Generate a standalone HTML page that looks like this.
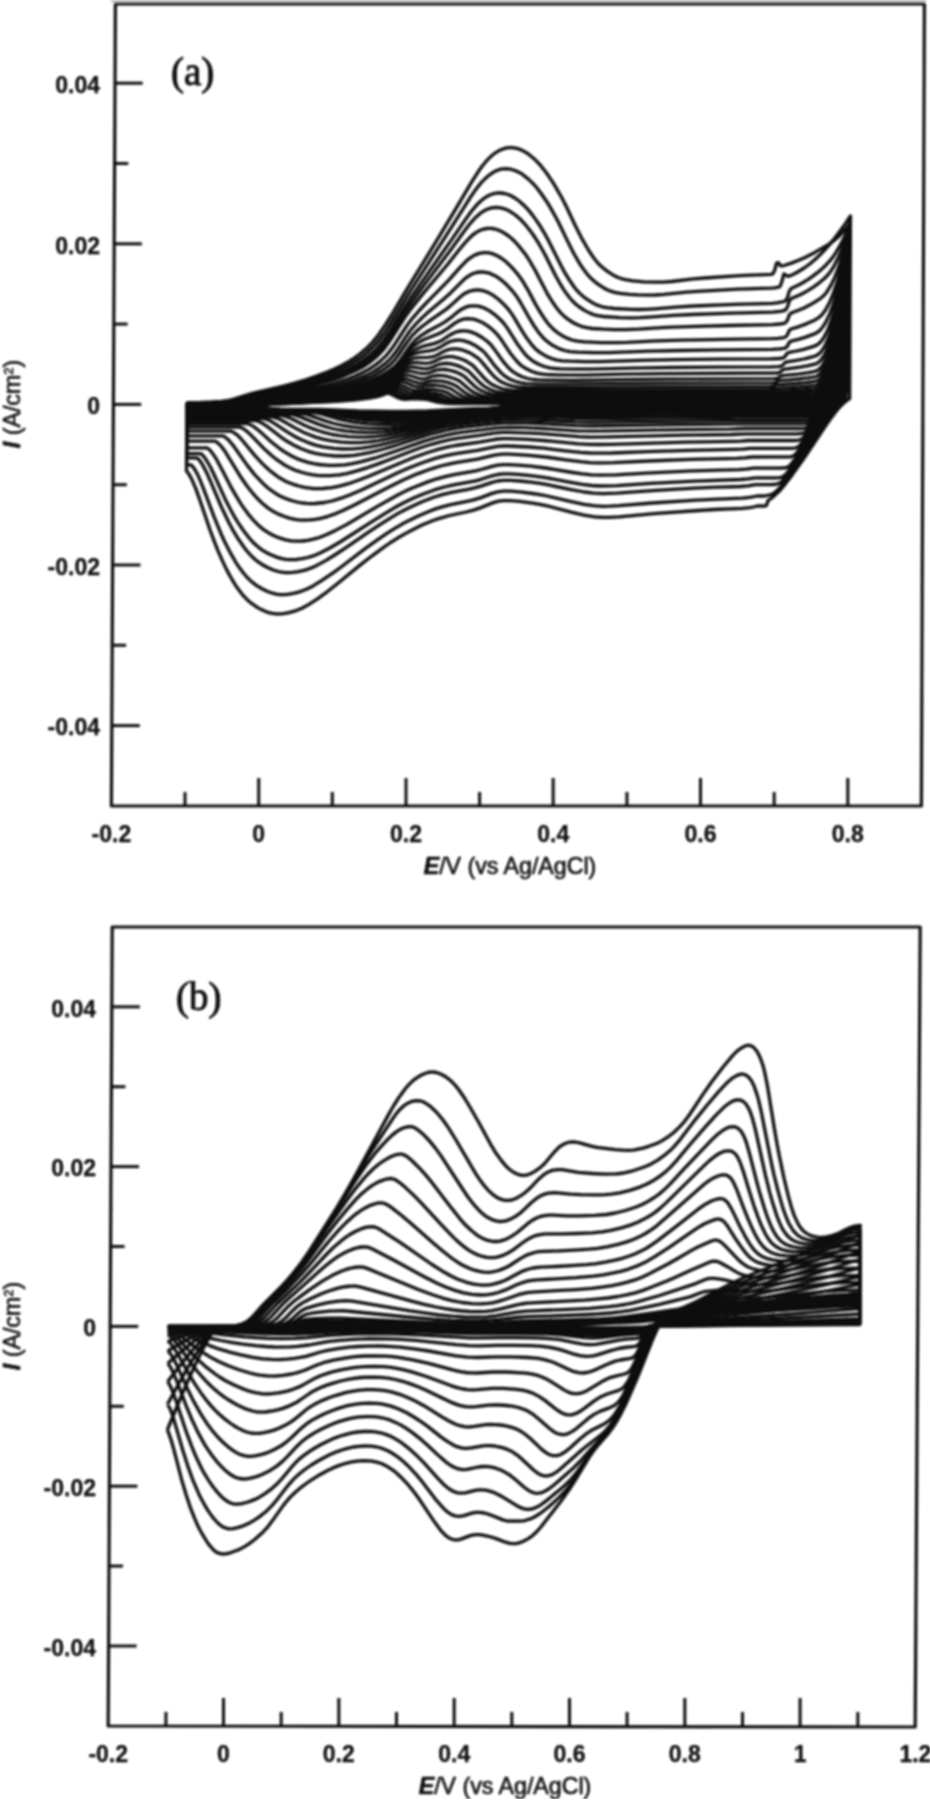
<!DOCTYPE html>
<html><head><meta charset="utf-8"><title>CV</title>
<style>
html,body{margin:0;padding:0;background:#fff;}
body{width:930px;height:1800px;overflow:hidden;}
svg{display:block;}
.ax{fill:none;stroke:#111;stroke-width:3.2;stroke-linejoin:round;}
.tk{fill:none;stroke:#111;stroke-width:3.0;}
.cv{fill:none;stroke:#0c0c0c;stroke-width:3.3;stroke-linejoin:round;}
.tl{font-family:"Liberation Sans",sans-serif;font-size:23px;font-weight:bold;fill:#0a0a0a;stroke:#0a0a0a;stroke-width:0.25;}
.xt{font-family:"Liberation Sans",sans-serif;font-size:23.2px;fill:#0a0a0a;stroke:#0a0a0a;stroke-width:0.6;}
.it{font-style:italic;font-weight:bold;}
.sup{font-size:13px;}
.pl{font-family:"Liberation Serif",serif;font-size:39px;fill:#0a0a0a;stroke:#0a0a0a;stroke-width:0.9;}
</style></head><body>
<svg width="930" height="1800" viewBox="0 0 930 1800">
<defs><filter id="bl" x="0" y="0" width="1" height="1"><feGaussianBlur stdDeviation="0.8"/></filter></defs>
<g filter="url(#bl)">
<rect x="111" y="0" width="815" height="2.5" fill="#bbb"/>
<path class="ax" d="M115.4 4 L924.4 4 L921.4 806 L111.4 806 Z"/>
<path class="tk" d="M114.7 83.2 h28"/>
<path class="tk" d="M114.3 163.5 h14"/>
<path class="tk" d="M113.9 243.8 h28"/>
<path class="tk" d="M113.6 324.1 h14"/>
<path class="tk" d="M113.2 404.4 h28"/>
<path class="tk" d="M112.8 484.7 h14"/>
<path class="tk" d="M112.5 565.0 h28"/>
<path class="tk" d="M112.1 645.3 h14"/>
<path class="tk" d="M111.8 725.6 h28"/>
<path class="tk" d="M185.0 806 v-14"/>
<path class="tk" d="M258.7 806 v-28"/>
<path class="tk" d="M332.3 806 v-14"/>
<path class="tk" d="M406.0 806 v-28"/>
<path class="tk" d="M479.6 806 v-14"/>
<path class="tk" d="M553.2 806 v-28"/>
<path class="tk" d="M626.9 806 v-14"/>
<path class="tk" d="M700.5 806 v-28"/>
<path class="tk" d="M774.2 806 v-14"/>
<path class="tk" d="M847.8 806 v-28"/>
<path class="ax" d="M112.2 927 L920.2 927 L915.2 1727 L108.2 1726 Z"/>
<path class="tk" d="M111.8 1006.8 h28"/>
<path class="tk" d="M111.4 1086.7 h14"/>
<path class="tk" d="M111.0 1166.6 h28"/>
<path class="tk" d="M110.6 1246.5 h14"/>
<path class="tk" d="M110.2 1326.4 h28"/>
<path class="tk" d="M109.8 1406.3 h14"/>
<path class="tk" d="M109.4 1486.2 h28"/>
<path class="tk" d="M109.0 1566.1 h14"/>
<path class="tk" d="M108.6 1646.0 h28"/>
<path class="tk" d="M165.9 1726 v-14"/>
<path class="tk" d="M223.5 1726 v-28"/>
<path class="tk" d="M281.2 1726 v-14"/>
<path class="tk" d="M338.8 1726 v-28"/>
<path class="tk" d="M396.5 1726 v-14"/>
<path class="tk" d="M454.2 1726 v-28"/>
<path class="tk" d="M511.8 1726 v-14"/>
<path class="tk" d="M569.5 1726 v-28"/>
<path class="tk" d="M627.1 1726 v-14"/>
<path class="tk" d="M684.8 1726 v-28"/>
<path class="tk" d="M742.5 1726 v-14"/>
<path class="tk" d="M800.1 1726 v-28"/>
<path class="tk" d="M857.8 1726 v-14"/>
<text class="tl" x="100" y="93.0" text-anchor="end">0.04</text>
<text class="tl" x="100" y="253.6" text-anchor="end">0.02</text>
<text class="tl" x="100" y="414.2" text-anchor="end">0</text>
<text class="tl" x="100" y="574.8" text-anchor="end">-0.02</text>
<text class="tl" x="100" y="735.4" text-anchor="end">-0.04</text>
<text class="tl" x="111.4" y="841.5" text-anchor="middle">-0.2</text>
<text class="tl" x="258.7" y="841.5" text-anchor="middle">0</text>
<text class="tl" x="406.0" y="841.5" text-anchor="middle">0.2</text>
<text class="tl" x="553.2" y="841.5" text-anchor="middle">0.4</text>
<text class="tl" x="700.5" y="841.5" text-anchor="middle">0.6</text>
<text class="tl" x="847.8" y="841.5" text-anchor="middle">0.8</text>
<text class="xt" x="510" y="874" text-anchor="middle"><tspan class="it">E</tspan>/V (vs Ag/AgCl)</text>
<text class="xt" transform="translate(20 404) rotate(-90)" text-anchor="middle"><tspan class="it">I</tspan> (A/cm<tspan class="sup" dy="-7">2</tspan><tspan dy="7">)</tspan></text>
<text class="pl" x="171" y="85">(a)</text>
<text class="tl" x="96" y="1016.6" text-anchor="end">0.04</text>
<text class="tl" x="96" y="1176.4" text-anchor="end">0.02</text>
<text class="tl" x="96" y="1336.2" text-anchor="end">0</text>
<text class="tl" x="96" y="1496.0" text-anchor="end">-0.02</text>
<text class="tl" x="96" y="1655.8" text-anchor="end">-0.04</text>
<text class="tl" x="108.2" y="1761.5" text-anchor="middle">-0.2</text>
<text class="tl" x="223.5" y="1761.5" text-anchor="middle">0</text>
<text class="tl" x="338.8" y="1761.5" text-anchor="middle">0.2</text>
<text class="tl" x="454.2" y="1761.5" text-anchor="middle">0.4</text>
<text class="tl" x="569.5" y="1761.5" text-anchor="middle">0.6</text>
<text class="tl" x="684.8" y="1761.5" text-anchor="middle">0.8</text>
<text class="tl" x="800.1" y="1761.5" text-anchor="middle">1</text>
<text class="tl" x="915.4" y="1761.5" text-anchor="middle">1.2</text>
<text class="xt" x="505" y="1794" text-anchor="middle"><tspan class="it">E</tspan>/V (vs Ag/AgCl)</text>
<text class="xt" transform="translate(20 1326) rotate(-90)" text-anchor="middle"><tspan class="it">I</tspan> (A/cm<tspan class="sup" dy="-7">2</tspan><tspan dy="7">)</tspan></text>
<text class="pl" x="176" y="1010">(b)</text>
<path class="cv" d="M186.9 402.8L197.9 402.6L210.8 402.1L221.8 401.4L227.4 400.7L231.1 399.9L234.7 398.9L245.8 395.3L253.2 393.2L284.5 385.8L295.6 382.9L306.6 379.5L315.8 376.4L325.1 372.9L334.3 369.0L341.7 365.4L349.0 361.4L354.6 357.9L360.1 353.8L367.5 347.4L373.1 341.6L378.6 334.7L386.0 323.9L391.6 315.0L406.4 290.1L436.1 241.7L456.5 207.6L471.4 182.3L478.8 170.8L482.5 165.7L486.2 161.2L491.7 155.7L495.4 152.8L499.1 150.6L501.0 149.7L504.7 148.4L508.3 147.7L512.0 147.7L515.7 148.2L519.4 149.2L521.2 149.9L524.9 151.8L528.6 154.2L534.1 158.7L537.7 162.3L541.4 166.4L546.9 173.5L552.4 181.7L556.0 187.6L561.5 197.3L565.2 204.3L576.1 227.2L581.6 238.1L588.9 250.8L594.4 258.8L598.0 263.2L601.7 266.7L605.4 269.8L609.0 272.4L614.5 275.8L618.2 277.5L621.9 278.8L625.6 279.7L632.9 280.8L644.0 281.8L653.2 282.2L662.4 282.2L671.6 281.5L693.7 278.9L704.7 278.0L739.7 275.7L771.0 274.3L772.9 273.8L774.7 270.3L776.6 263.0L778.4 262.6L780.3 265.7L782.1 265.9L784.0 265.5L791.3 263.1L798.7 260.3L806.1 257.0L815.3 252.2L828.2 244.6L831.9 242.1L835.6 239.2L839.3 235.9L843.0 232.1L846.7 227.8L850.4 222.9L849.6 398.7L845.9 401.2L842.2 404.5L838.5 408.5L834.8 413.0L831.1 417.9L825.6 425.8L803.3 459.2L792.2 474.9L784.8 484.6L779.3 491.1L773.7 496.4L770.0 499.2L768.2 500.4L766.3 505.6L764.5 506.0L757.1 506.0L753.4 507.0L749.7 507.7L742.4 508.4L714.7 509.5L698.2 510.5L654.0 513.7L619.0 516.8L609.8 517.3L602.4 517.3L596.9 517.0L593.2 516.6L584.0 515.1L571.1 512.1L547.2 505.9L539.9 504.4L532.5 503.1L519.6 501.4L510.4 500.6L503.1 500.6L497.5 501.4L492.0 503.1L480.9 507.6L473.6 510.1L466.2 512.0L449.6 515.5L438.6 518.6L433.0 520.5L427.5 522.7L422.0 525.1L414.6 528.7L405.3 533.6L398.0 537.8L390.6 542.5L383.2 547.7L372.1 555.8L361.0 564.4L337.0 584.0L327.8 591.3L316.7 599.4L307.4 605.3L301.9 608.2L298.2 609.8L294.5 611.1L289.0 612.7L283.5 613.6L279.8 613.9L276.1 613.9L272.4 613.4L268.8 612.6L265.1 611.3L261.4 609.6L257.7 607.6L254.1 605.2L250.4 602.5L246.7 599.2L243.1 595.4L237.6 588.3L233.9 582.7L230.3 576.5L226.6 569.6L223.0 562.1L217.5 549.6L213.9 540.4L210.2 530.5L199.3 498.4L195.7 488.4L192.0 479.8L190.2 476.3L188.4 473.3L186.5 470.9L186.9 402.8"/>
<path class="cv" d="M186.9 402.8L199.7 402.7L212.6 402.2L223.7 401.5L231.0 400.6L236.6 399.4L249.5 395.5L256.9 393.5L286.3 387.0L297.4 384.3L306.6 381.7L317.7 378.2L326.9 374.9L336.1 371.2L343.5 367.8L350.9 364.0L356.4 360.6L362.0 356.8L367.5 352.3L373.0 347.0L378.6 340.8L384.2 333.3L391.6 321.8L404.6 300.3L410.1 291.5L449.0 231.2L469.4 198.8L475.0 190.6L478.7 185.7L482.4 181.4L488.0 176.0L491.7 173.3L493.5 172.1L495.3 171.1L499.0 169.7L502.7 168.9L506.4 168.7L510.1 169.1L511.9 169.5L515.6 170.7L519.3 172.4L522.9 174.7L528.4 179.1L532.1 182.6L535.8 186.6L541.3 193.7L546.8 201.7L550.4 207.6L557.7 220.8L568.7 243.4L574.1 254.0L577.8 260.4L581.4 266.3L586.9 273.9L590.6 277.9L594.3 281.2L597.9 284.1L603.4 287.7L607.1 289.7L610.8 291.2L614.5 292.3L620.0 293.3L629.2 294.3L638.4 294.9L647.6 295.1L655.0 295.0L664.2 294.4L686.3 292.2L697.3 291.4L737.8 289.2L771.0 288.1L774.7 287.8L778.3 287.2L780.2 286.2L782.0 281.0L783.9 274.0L785.8 275.0L787.6 276.4L789.4 275.9L791.3 275.2L796.8 272.5L804.2 268.0L809.7 264.0L815.3 259.3L820.8 254.0L828.2 246.1L835.6 237.1L843.0 227.1L850.5 216.0L848.0 353.4L845.9 399.5L842.3 402.2L838.6 405.8L834.9 409.9L829.3 417.1L821.9 427.6L797.8 463.6L790.4 474.0L783.0 483.8L779.3 488.2L775.6 491.9L773.7 493.2L771.9 494.3L770.0 494.9L764.5 496.0L757.1 496.0L749.8 497.4L742.4 498.2L712.9 499.3L696.4 500.1L652.2 503.0L619.0 505.7L609.8 506.2L602.5 506.3L593.3 505.7L584.1 504.3L571.2 501.7L547.3 496.0L539.9 494.6L532.6 493.5L519.7 491.9L510.5 491.2L503.1 491.2L497.6 491.9L492.1 493.4L481.0 497.6L473.6 499.9L468.1 501.2L449.7 504.9L440.4 507.4L434.9 509.1L429.4 511.2L418.3 515.9L409.1 520.4L401.7 524.3L394.3 528.7L386.9 533.4L377.7 539.7L364.8 548.9L340.8 567.2L333.4 572.6L322.3 580.2L313.1 585.9L307.5 588.7L303.8 590.3L300.1 591.6L294.6 593.2L289.1 594.2L285.4 594.6L279.9 594.6L276.2 594.1L272.5 593.2L267.0 591.3L261.5 588.5L256.0 585.1L250.5 580.7L246.8 577.0L243.2 572.7L239.5 567.8L235.8 562.3L230.4 552.9L224.9 542.2L221.2 534.2L214.0 516.6L203.0 487.3L199.4 478.5L197.6 474.6L195.8 471.2L193.9 468.2L192.1 465.8L190.3 464.8L186.6 464.8L186.9 402.8"/>
<path class="cv" d="M186.9 402.9L201.6 402.7L214.5 402.3L225.5 401.7L232.9 401.0L240.3 399.6L253.2 396.0L260.5 394.1L297.4 386.4L306.6 384.0L315.8 381.3L325.0 378.4L334.3 375.0L343.5 371.2L350.9 367.7L356.4 364.7L361.9 361.2L369.3 355.6L374.9 350.5L380.4 344.4L384.1 339.6L389.7 331.4L404.5 307.3L410.1 298.8L423.1 280.1L452.7 238.1L465.7 219.1L471.2 211.5L476.8 204.9L478.6 203.0L482.3 199.7L486.0 197.0L487.9 195.9L489.7 195.0L493.4 193.7L497.1 193.0L500.8 193.0L504.4 193.5L508.1 194.5L510.0 195.3L513.6 197.2L519.1 201.0L524.6 205.9L528.3 209.9L532.0 214.4L535.6 219.4L539.3 224.7L542.9 230.6L546.6 237.0L550.2 243.9L561.2 266.0L564.8 272.6L568.5 278.7L574.0 286.8L575.8 289.1L579.5 293.1L583.1 296.4L586.8 299.2L592.3 302.7L596.0 304.6L599.7 306.0L603.4 307.1L607.0 307.7L614.4 308.5L631.0 309.4L638.3 309.5L645.7 309.4L654.9 308.8L678.8 306.8L693.6 306.0L734.1 304.3L772.7 303.3L778.3 302.7L783.8 301.5L785.6 300.8L787.5 297.5L789.4 290.9L791.2 288.4L798.6 285.0L802.3 283.0L807.8 279.6L811.5 277.1L817.1 272.9L822.6 268.2L826.3 264.7L830.0 260.7L833.7 255.9L835.6 253.2L841.1 243.7L846.7 232.0L850.4 222.9L846.2 353.8L844.1 399.1L840.4 401.7L836.7 405.1L833.0 409.2L829.3 413.8L820.1 426.7L799.7 457.3L788.5 473.1L783.0 480.2L781.1 482.0L779.3 483.2L777.5 483.9L775.6 484.3L771.9 484.5L755.4 484.6L748.0 485.9L740.6 486.5L711.2 487.4L694.6 488.2L652.2 490.6L617.2 493.1L602.5 493.6L593.3 493.1L584.1 492.0L571.2 489.7L547.3 484.7L540.0 483.4L530.8 482.2L519.7 481.0L510.5 480.3L503.2 480.3L497.6 481.0L492.1 482.4L481.0 486.1L475.5 487.7L468.1 489.3L451.6 492.4L442.3 494.7L433.1 497.5L422.1 501.8L412.8 505.9L405.5 509.5L398.1 513.4L390.7 517.8L381.5 523.6L368.5 532.1L346.4 547.4L337.1 553.5L326.1 560.4L316.8 565.4L311.3 567.9L307.6 569.3L303.9 570.4L298.4 571.6L292.9 572.4L289.2 572.7L285.5 572.6L281.8 572.2L278.1 571.5L272.6 569.7L267.1 567.3L261.6 564.2L257.9 561.7L254.3 558.7L250.6 555.1L246.9 551.0L243.3 546.3L237.8 538.3L232.3 529.1L228.7 522.3L221.4 507.0L210.4 481.1L206.8 472.9L203.1 465.8L201.3 462.8L199.5 460.3L197.7 458.3L195.8 457.8L186.6 457.8L186.9 402.9"/>
<path class="cv" d="M186.9 403.0L207.1 402.7L225.5 402.0L234.7 401.2L242.1 400.0L262.4 394.8L301.1 386.9L310.3 384.6L319.5 382.0L332.4 377.8L343.5 373.5L354.5 368.5L361.9 364.3L369.3 359.1L374.9 354.5L380.4 348.9L384.1 344.5L387.8 339.4L391.5 333.8L404.5 312.9L411.9 301.9L424.9 284.1L450.8 249.7L463.8 231.8L469.3 224.5L474.9 218.2L476.7 216.4L480.4 213.2L484.1 210.8L486.0 209.8L489.7 208.4L493.3 207.6L497.0 207.4L500.7 207.8L504.4 208.8L506.2 209.5L509.9 211.3L515.4 215.0L520.9 219.8L524.6 223.8L528.2 228.2L531.9 233.0L535.5 238.3L539.2 244.2L544.7 254.0L555.6 275.7L559.3 282.3L562.9 288.3L566.6 293.8L570.3 298.5L572.1 300.5L575.7 304.1L579.4 307.0L584.9 310.6L590.4 313.4L594.1 314.8L597.8 315.7L603.3 316.5L619.9 317.6L630.9 317.9L640.1 317.7L649.3 317.2L673.3 315.4L691.7 314.5L732.2 313.1L772.7 312.2L780.1 311.3L783.8 310.6L785.6 309.9L787.5 306.9L789.3 300.8L791.2 298.6L798.5 295.5L802.2 293.7L807.8 290.6L813.3 287.1L818.9 283.1L824.4 278.5L828.1 274.6L830.0 272.3L833.7 266.6L835.5 263.2L839.2 255.5L841.1 251.1L844.8 241.0L846.7 235.4L850.4 222.9L844.2 376.0L842.3 399.3L840.4 400.6L836.7 403.7L833.0 407.6L829.3 412.0L825.6 416.8L820.1 424.6L799.7 455.2L790.4 468.6L786.7 473.3L784.9 475.2L783.0 476.6L781.2 477.3L779.3 477.6L775.6 477.8L755.4 477.8L748.0 478.9L740.7 479.5L694.6 481.1L650.4 483.4L617.3 485.6L608.1 485.9L600.7 486.0L591.5 485.5L582.3 484.4L569.4 482.2L545.5 477.6L530.8 475.6L517.9 474.4L508.7 473.9L503.2 473.9L497.7 474.5L492.1 475.8L481.1 479.3L475.5 480.8L470.0 481.9L453.4 484.9L444.2 487.0L435.0 489.7L423.9 493.7L414.7 497.6L407.3 501.0L401.8 503.8L394.4 507.8L385.2 513.3L372.3 521.3L340.9 541.5L329.8 548.0L320.6 552.8L315.0 555.2L311.4 556.4L307.7 557.5L302.1 558.7L296.6 559.5L292.9 559.7L289.2 559.7L285.6 559.3L281.9 558.7L276.4 557.1L270.9 554.8L267.2 553.0L263.5 550.8L259.8 548.3L256.2 545.3L252.5 541.7L248.8 537.6L243.4 530.5L237.9 522.3L234.2 516.3L230.6 509.7L225.1 498.9L214.1 474.8L210.5 467.3L206.8 460.8L205.0 458.1L203.2 455.8L201.4 453.9L199.5 453.7L186.6 453.7L186.9 403.0"/>
<path class="cv" d="M186.9 403.1L208.9 402.8L229.2 402.1L238.4 401.3L245.8 400.1L266.1 395.3L302.9 388.2L310.3 386.5L319.5 384.0L332.4 380.1L343.5 376.1L354.5 371.3L361.9 367.5L369.3 362.6L374.8 358.2L380.4 353.0L384.1 348.8L387.8 343.8L391.5 338.4L404.5 317.9L411.9 307.6L423.0 293.6L447.1 265.0L460.0 248.7L465.6 242.1L471.1 236.4L474.8 233.4L478.5 231.1L480.3 230.3L484.0 229.0L487.7 228.4L491.4 228.4L495.1 229.0L498.8 230.2L502.4 231.9L507.9 235.5L511.6 238.5L515.3 242.0L518.9 246.1L522.6 250.7L526.3 255.6L529.9 261.2L535.4 270.8L546.3 291.8L550.0 298.1L553.7 303.8L557.3 308.9L561.0 313.1L564.6 316.6L568.3 319.5L573.8 323.0L577.5 324.8L581.2 326.3L586.7 327.7L592.2 328.5L603.3 329.2L614.3 329.6L625.3 329.6L638.2 329.1L665.9 327.4L687.9 326.6L728.5 325.5L772.6 324.7L780.0 324.0L783.7 323.4L785.5 322.7L787.4 320.2L789.3 314.9L791.1 313.0L798.5 310.3L804.0 307.9L809.6 305.1L815.1 301.9L820.6 298.3L822.5 296.8L826.2 292.8L828.0 290.2L831.7 283.8L833.6 280.0L837.3 270.9L839.2 265.6L842.9 253.5L844.8 246.7L848.5 231.4L850.4 222.9L842.4 378.6L840.4 399.3L838.6 400.5L834.9 403.6L831.2 407.4L827.5 411.8L823.8 416.6L818.2 424.4L794.1 460.4L790.4 465.0L788.6 466.6L786.7 467.4L784.9 467.8L781.2 468.0L753.6 468.1L746.2 469.1L738.9 469.6L692.8 470.9L650.5 472.9L615.5 474.8L600.8 475.2L591.6 474.9L582.3 473.9L569.5 472.0L545.6 468.0L530.8 466.2L518.0 465.1L508.8 464.7L503.2 464.7L497.7 465.2L492.2 466.4L481.1 469.5L475.6 470.8L455.3 474.3L446.1 476.3L436.9 478.8L427.7 481.9L412.9 487.7L405.5 491.1L398.2 494.8L377.9 506.1L346.5 524.6L335.4 530.4L326.2 534.8L320.6 537.0L317.0 538.2L313.3 539.2L307.7 540.3L302.2 541.0L298.5 541.2L294.9 541.2L291.2 540.9L285.7 539.8L280.1 538.2L274.6 536.0L269.1 533.2L263.6 529.6L259.9 526.6L256.3 523.2L252.6 519.3L248.9 514.9L245.3 510.1L241.6 504.9L238.0 499.2L230.7 486.6L219.7 465.2L216.1 458.7L212.4 453.2L210.6 450.9L208.7 449.0L206.9 447.8L186.7 447.8L186.9 403.1"/>
<path class="cv" d="M186.9 403.2L210.8 403.0L231.0 402.4L242.1 401.8L251.3 400.7L273.4 396.0L308.4 389.7L323.2 386.3L334.2 383.3L345.3 379.7L354.5 376.2L363.7 372.0L369.3 369.0L374.8 365.4L380.3 361.1L385.9 355.9L387.7 353.8L391.4 349.1L395.2 343.7L406.3 326.5L410.0 321.4L413.7 316.8L419.2 310.5L426.6 302.6L448.8 280.1L459.9 267.7L465.5 261.8L469.2 258.6L472.9 256.1L474.7 255.1L478.4 253.6L482.1 252.8L483.9 252.6L487.6 252.7L491.3 253.4L495.0 254.7L498.6 256.5L502.3 258.8L506.0 261.7L509.6 265.1L513.3 269.0L517.0 273.3L522.5 280.8L527.9 289.9L535.2 303.6L538.9 310.0L544.4 318.6L548.0 323.5L549.9 325.7L553.5 329.4L559.0 333.7L562.7 336.0L566.4 337.9L571.9 340.0L577.4 341.2L584.8 341.9L601.4 342.6L616.1 342.7L627.1 342.4L656.6 340.9L682.4 340.1L724.7 339.3L772.6 338.7L778.1 338.3L783.6 337.6L785.5 337.0L787.3 335.0L789.2 330.6L791.0 329.0L798.4 326.8L805.8 324.1L815.0 319.9L818.7 317.7L820.5 316.1L822.4 314.2L824.2 311.8L826.1 309.0L829.8 301.9L833.5 292.8L837.3 281.5L839.1 275.0L842.9 260.1L844.8 251.8L848.5 233.2L850.4 222.9L840.5 376.5L838.6 399.0L836.7 400.2L833.0 403.3L829.3 407.0L825.6 411.4L821.9 416.1L816.4 423.9L797.8 451.4L796.0 453.7L794.1 455.4L792.3 456.3L790.5 456.8L786.8 456.9L751.8 457.0L744.4 457.9L737.1 458.3L691.0 459.3L648.7 461.0L613.7 462.6L599.0 462.9L589.8 462.6L580.6 461.7L567.7 460.1L545.6 457.0L529.0 455.4L518.0 454.6L508.8 454.2L503.3 454.2L497.7 454.7L492.2 455.7L477.5 459.1L457.2 462.4L449.8 463.8L440.6 466.0L431.4 468.8L416.7 474.1L403.7 479.7L389.0 487.0L353.9 505.3L342.9 510.5L333.6 514.4L328.1 516.3L324.4 517.4L320.7 518.3L315.2 519.3L309.7 519.9L306.0 520.1L302.3 520.1L298.6 519.8L294.9 519.3L289.4 518.1L283.9 516.3L278.4 514.1L272.9 511.2L269.2 508.9L265.6 506.1L261.9 502.9L258.2 499.3L254.6 495.3L250.9 491.0L247.2 486.3L239.9 475.7L225.3 451.8L221.6 446.8L219.8 444.7L216.1 441.5L214.3 441.1L186.7 441.1L186.9 403.2"/>
<path class="cv" d="M186.9 403.2L214.5 403.1L236.6 402.6L249.5 402.0L258.7 400.9L280.8 396.5L313.9 390.8L326.8 388.1L337.9 385.3L347.1 382.5L356.3 379.3L365.6 375.6L372.9 371.9L378.5 368.5L384.0 364.4L389.6 359.5L391.4 357.5L395.1 352.9L398.8 347.6L406.2 336.2L409.9 331.0L415.5 324.4L421.0 318.8L426.6 313.6L443.2 299.5L448.8 294.6L463.6 279.8L467.3 276.9L470.9 274.6L474.6 273.0L476.5 272.5L480.2 272.0L482.0 272.0L485.7 272.3L489.4 273.2L491.2 273.9L494.9 275.7L498.5 277.9L504.0 282.3L507.7 285.8L511.4 289.8L515.0 294.3L516.9 296.8L520.5 302.5L529.7 318.7L533.3 324.7L538.8 332.6L542.5 337.0L544.3 338.9L548.0 342.1L553.5 345.8L559.0 348.6L564.5 350.5L570.0 351.6L577.4 352.1L593.9 352.7L608.7 352.7L649.2 351.2L678.6 350.5L721.0 349.8L772.5 349.4L779.9 348.9L783.6 348.4L785.4 348.0L787.3 346.2L789.1 342.6L791.0 341.2L798.4 339.4L805.7 337.1L813.1 334.4L816.8 332.7L818.6 331.4L820.5 329.7L822.3 327.5L824.2 324.9L826.0 321.7L829.8 313.6L833.5 303.2L837.2 290.2L839.1 282.7L842.9 265.7L844.8 256.1L848.5 234.7L850.4 222.9L838.7 381.2L836.7 399.1L834.9 400.3L831.2 403.4L825.7 409.2L821.9 413.8L816.4 421.4L801.6 443.1L799.7 445.4L797.9 447.0L796.0 447.8L794.2 448.1L790.5 448.3L750.0 448.4L742.6 449.1L735.3 449.4L689.2 450.3L646.9 451.6L611.9 453.0L597.2 453.2L589.8 453.0L580.6 452.4L567.7 451.1L543.8 448.2L529.1 447.0L508.8 446.0L503.3 446.0L497.8 446.4L492.3 447.3L477.5 450.3L459.1 453.1L451.7 454.3L444.4 455.9L435.1 458.4L422.2 462.7L409.3 467.7L398.3 472.6L361.4 490.0L350.3 494.7L341.1 498.2L331.9 501.0L324.5 502.5L315.3 503.5L309.7 503.6L306.1 503.4L302.4 503.0L296.9 502.0L291.4 500.5L285.8 498.6L280.3 496.2L276.7 494.1L273.0 491.7L269.3 489.0L265.6 485.9L262.0 482.4L254.6 474.6L247.3 465.4L232.7 444.8L229.0 440.5L227.2 438.8L223.5 436.0L221.7 435.9L186.7 435.9L186.9 403.2"/>
<path class="cv" d="M186.9 403.3L216.3 403.2L238.4 402.8L255.0 402.3L264.2 401.4L269.7 400.5L286.3 397.2L315.8 392.5L328.7 390.0L339.7 387.3L348.9 384.8L358.2 381.8L365.5 379.1L372.9 375.9L380.3 371.8L385.8 368.1L391.4 363.5L393.2 361.7L396.9 357.3L408.1 341.0L411.8 336.2L415.5 332.3L421.0 327.3L428.4 321.7L445.0 310.2L450.6 305.6L459.8 297.2L463.5 294.3L467.2 292.2L469.0 291.4L470.9 290.8L474.6 290.1L476.4 290.0L480.1 290.1L483.8 290.9L485.6 291.5L489.3 293.1L492.9 295.1L498.4 299.2L503.9 304.4L507.6 308.4L509.4 310.6L513.1 315.9L522.2 331.2L525.9 336.9L531.4 344.3L535.0 348.4L536.9 350.1L540.6 352.9L546.1 356.2L551.6 358.6L557.1 360.1L562.6 360.8L570.0 361.2L584.7 361.6L599.4 361.7L639.9 360.4L674.9 359.7L720.9 359.2L770.6 358.9L779.9 358.5L783.5 357.9L785.4 356.0L787.2 353.2L789.1 352.4L796.5 351.0L803.8 349.3L811.2 347.1L814.9 345.9L816.7 345.0L818.6 343.8L820.4 342.1L822.3 339.9L824.1 337.1L826.0 333.6L827.9 329.6L829.7 324.9L833.4 313.4L837.2 298.9L839.1 290.5L842.8 271.3L844.7 260.5L848.5 236.3L850.4 222.9L836.8 386.5L834.9 399.3L833.1 400.5L829.4 403.6L823.8 409.6L816.4 419.1L805.3 435.1L803.4 437.4L801.6 439.1L799.7 439.9L797.9 440.3L794.2 440.5L748.2 440.5L740.8 441.1L733.5 441.3L685.6 442.1L611.9 444.3L597.2 444.5L588.0 444.3L578.8 443.8L543.8 440.5L527.3 439.3L508.9 438.6L503.3 438.6L497.8 439.0L492.3 439.8L479.4 442.1L455.4 445.5L448.1 446.9L438.9 449.2L427.8 452.5L414.9 457.0L405.7 460.7L368.8 476.3L359.6 479.8L348.5 483.7L339.3 486.2L331.9 487.6L322.7 488.5L317.2 488.6L313.5 488.5L309.8 488.1L304.3 487.3L298.8 486.0L293.3 484.3L287.8 482.2L284.1 480.4L280.4 478.3L276.7 475.9L269.4 470.2L262.1 463.4L254.7 455.4L243.7 442.0L240.1 437.8L236.4 434.3L232.7 431.8L230.9 431.1L186.7 431.1L186.9 403.3"/>
<path class="cv" d="M186.9 403.4L240.2 403.1L260.5 402.5L269.7 401.9L277.1 400.8L293.7 397.7L321.3 393.4L332.3 391.4L348.9 387.5L356.3 385.4L363.7 383.0L372.9 379.6L380.3 376.1L387.7 371.7L393.2 367.6L395.1 366.0L398.8 361.9L402.5 357.0L408.0 348.9L411.7 344.0L415.4 340.0L421.0 335.6L428.3 331.0L439.4 325.1L445.0 321.9L450.5 317.9L457.9 311.8L461.6 309.2L465.3 307.4L467.1 306.7L469.0 306.2L472.6 305.8L474.5 305.8L478.2 306.2L481.8 307.2L483.7 307.8L489.2 310.6L494.7 314.6L500.2 319.5L503.9 323.4L507.5 328.4L518.5 345.6L524.0 352.8L527.6 356.8L529.5 358.4L533.1 361.2L538.7 364.3L544.2 366.5L549.7 367.9L555.2 368.5L560.7 368.8L575.5 369.1L590.2 369.2L632.5 368.1L671.2 367.5L717.2 367.1L770.6 366.9L778.0 366.7L779.8 366.5L781.7 366.1L785.4 362.3L787.2 361.8L796.4 360.4L803.8 359.0L813.0 356.7L816.7 355.4L818.5 354.2L820.4 352.5L822.2 350.2L824.1 347.3L825.9 343.7L827.8 339.4L829.7 334.4L833.4 321.9L837.2 306.2L839.0 297.1L842.8 276.1L844.7 264.2L848.5 237.7L850.4 222.9L834.9 392.9L833.1 399.5L831.2 400.8L827.5 404.0L822.0 410.1L816.4 417.2L807.1 430.0L805.3 431.9L803.5 433.0L801.6 433.5L796.1 433.8L746.4 433.8L731.6 434.5L683.8 435.1L608.3 436.9L595.4 437.1L588.0 437.0L578.8 436.6L542.0 433.7L525.5 432.8L508.9 432.3L503.4 432.4L497.8 432.7L492.3 433.4L479.4 435.4L457.3 438.3L450.0 439.7L442.6 441.3L431.5 444.3L420.5 447.8L411.2 451.2L389.1 459.8L376.2 464.6L367.0 467.8L355.9 471.2L346.7 473.6L339.3 474.8L330.1 475.6L320.9 475.6L317.2 475.3L311.7 474.6L306.2 473.5L300.7 472.0L295.2 470.2L291.5 468.6L284.1 464.7L276.8 459.7L271.3 455.3L264.0 448.6L249.3 433.4L245.6 430.3L243.8 429.0L240.1 427.0L186.7 427.0L186.9 403.4"/>
<path class="cv" d="M186.9 403.5L223.7 403.4L245.8 403.2L266.0 402.6L275.2 402.0L282.6 400.9L299.2 397.9L321.3 394.6L332.3 392.7L347.1 389.6L360.0 386.1L369.2 383.1L378.4 379.3L385.8 375.4L391.3 371.8L395.0 368.9L398.7 365.0L408.0 352.3L411.7 347.9L413.6 346.1L417.2 343.4L420.9 341.2L424.6 339.3L437.5 334.2L441.2 332.5L446.8 329.1L454.2 323.6L457.8 321.3L461.5 319.7L463.4 319.2L467.1 318.7L470.7 318.8L474.4 319.4L476.3 319.9L481.8 322.2L487.3 325.6L491.0 328.4L494.6 331.7L498.3 335.7L501.9 340.6L511.1 354.3L516.6 361.0L520.2 364.6L522.1 366.1L525.8 368.5L531.3 371.2L536.8 373.1L542.3 374.1L547.8 374.6L555.2 374.8L581.0 375.1L623.3 374.2L662.0 373.7L776.1 373.0L777.9 372.9L779.8 372.5L781.6 370.6L783.5 369.3L800.1 367.2L807.4 365.8L814.8 364.2L816.7 363.5L818.5 362.4L820.3 360.7L822.2 358.4L824.1 355.3L825.9 351.6L827.8 347.1L829.6 341.8L833.4 328.6L837.1 311.9L839.0 302.2L842.8 279.8L846.6 253.4L850.4 222.9L835.0 381.3L833.1 398.9L829.4 401.4L825.7 404.8L820.1 411.0L809.0 425.4L807.2 427.0L805.3 427.9L803.5 428.3L799.8 428.5L744.6 428.5L729.8 429.1L680.1 429.6L593.6 431.2L577.0 430.8L542.1 428.5L525.5 427.7L508.9 427.4L497.9 427.8L461.0 432.4L453.7 433.6L446.3 435.1L435.2 437.8L424.2 441.1L387.3 454.0L374.4 458.2L361.5 461.7L352.3 463.7L344.9 464.8L335.7 465.4L328.3 465.4L319.1 464.5L313.6 463.6L308.1 462.3L302.6 460.7L298.9 459.4L291.6 456.0L284.2 451.6L278.7 447.8L271.4 442.0L260.4 431.9L256.7 428.8L253.0 426.1L249.4 424.2L247.5 423.7L186.8 423.6L186.9 403.5"/>
<path class="cv" d="M186.9 403.5L243.9 403.3L264.2 402.9L275.2 402.3L282.6 401.4L299.2 398.6L332.3 393.8L345.2 391.3L358.1 388.3L369.2 384.9L378.4 381.5L385.8 377.9L391.3 374.4L395.0 371.7L398.7 367.9L406.1 358.1L409.8 353.7L411.7 352.0L415.4 349.5L419.1 347.7L422.8 346.4L433.8 343.6L437.5 342.4L439.3 341.6L443.0 339.7L450.4 334.7L454.1 332.7L457.8 331.5L461.5 330.9L465.2 330.9L468.8 331.4L470.7 331.9L476.2 334.0L481.7 337.2L487.2 341.3L490.9 344.8L494.5 349.4L503.7 362.2L507.4 366.5L511.0 370.1L512.9 371.6L516.5 374.0L522.0 376.7L527.5 378.5L533.1 379.5L538.6 379.9L544.1 380.1L571.7 380.3L617.8 379.6L658.3 379.2L774.2 378.7L776.1 378.6L777.9 378.1L779.8 376.5L781.6 375.7L798.2 374.1L807.4 372.8L814.8 371.4L816.6 370.8L818.5 369.7L820.3 368.0L822.2 365.7L824.0 362.6L825.9 358.7L827.7 354.0L829.6 348.4L833.4 334.6L837.1 317.1L839.0 306.8L842.8 283.1L846.6 255.2L850.4 222.9L833.1 390.4L831.2 399.3L827.5 402.1L823.8 405.6L820.1 409.7L812.7 419.0L810.9 421.0L809.0 422.5L807.2 423.3L805.3 423.6L801.7 423.8L740.9 423.8L726.2 424.2L678.3 424.7L591.8 426.0L575.2 425.6L540.2 423.7L525.5 423.2L510.8 422.9L499.7 423.3L494.2 423.8L464.7 427.2L457.4 428.2L450.0 429.5L440.8 431.6L429.7 434.5L420.5 437.4L394.7 445.8L381.8 449.5L370.7 452.3L361.5 454.2L354.1 455.3L344.9 456.0L335.7 456.0L326.5 455.2L321.0 454.4L315.5 453.3L308.1 451.3L300.8 448.5L293.4 444.9L287.9 441.8L280.6 436.8L267.8 426.9L264.1 424.3L260.4 422.2L256.7 420.7L186.8 420.6L186.9 403.5"/>
<path class="cv" d="M186.9 403.6L243.9 403.4L264.2 403.0L275.2 402.5L282.6 401.7L299.2 399.1L330.5 394.9L341.5 393.0L352.6 390.6L363.7 387.8L372.9 384.9L380.3 382.0L387.6 378.2L391.3 375.8L395.0 373.0L398.7 369.0L406.1 359.5L408.0 357.6L409.8 356.1L411.7 354.9L415.4 353.3L419.0 352.3L430.1 350.7L433.8 349.9L435.6 349.3L439.3 347.6L446.7 343.1L450.4 341.4L454.1 340.5L457.8 340.1L459.6 340.2L463.3 340.7L468.8 342.3L474.3 344.9L479.8 348.6L483.5 351.5L485.3 353.5L489.0 358.0L494.5 365.4L500.0 371.7L503.6 375.1L507.3 377.7L511.0 379.7L516.5 381.8L520.2 382.7L525.7 383.6L536.7 384.0L564.3 384.2L610.4 383.6L654.6 383.2L772.4 382.9L774.2 382.8L776.1 382.2L777.9 380.9L779.8 380.4L789.0 379.8L798.2 379.0L807.4 377.9L814.8 376.8L816.6 376.2L818.4 375.1L820.3 373.4L822.1 371.0L824.0 367.9L825.9 363.9L827.7 359.0L829.6 353.3L833.3 339.1L837.1 320.8L839.0 310.2L842.8 285.6L846.6 256.6L850.4 222.9L833.1 383.1L831.2 398.9L827.5 401.4L823.8 404.8L820.1 408.8L812.7 417.4L810.9 418.9L809.0 419.7L807.2 420.1L803.5 420.3L739.1 420.3L724.3 420.7L672.8 421.1L591.8 422.1L575.2 421.8L540.2 420.3L525.5 419.8L512.6 419.6L501.6 420.0L494.2 420.6L466.6 423.5L453.7 425.4L444.5 427.2L435.3 429.5L426.1 432.1L400.2 440.0L389.2 442.9L378.1 445.4L368.9 447.2L361.5 448.2L352.3 448.9L343.1 449.0L333.9 448.4L322.9 446.8L315.5 445.1L308.2 442.6L300.8 439.5L293.5 435.7L288.0 432.4L275.1 423.8L271.5 421.6L267.8 419.8L265.9 419.1L264.1 418.7L245.7 418.3L186.8 418.3L186.9 403.6"/>
<path class="cv" d="M186.9 403.6L243.9 403.5L264.2 403.1L275.2 402.7L284.4 401.8L301.0 399.4L330.5 395.7L339.7 394.3L350.8 392.2L361.8 389.7L372.9 386.6L380.2 383.9L387.6 380.4L391.3 378.2L395.0 375.6L398.7 371.8L404.3 364.8L406.1 362.8L408.0 361.1L409.8 359.9L411.7 359.0L413.5 358.4L417.2 357.7L428.2 357.3L431.9 356.8L433.8 356.4L437.4 354.9L443.0 351.8L446.7 350.2L450.4 349.2L454.0 348.8L455.9 348.9L459.6 349.3L463.2 350.2L468.8 352.4L472.4 354.4L477.9 358.1L479.8 359.7L483.4 363.9L490.8 372.9L494.4 376.7L498.1 379.8L501.8 382.2L507.3 384.6L512.8 386.2L518.3 387.0L527.5 387.5L557.0 387.7L650.9 386.9L770.5 386.6L772.4 386.5L774.2 385.8L776.1 384.8L777.9 384.6L796.3 383.5L805.5 382.6L814.7 381.5L816.6 381.0L818.4 379.9L820.3 378.2L822.1 375.8L824.0 372.6L825.8 368.5L827.7 363.6L829.6 357.7L831.4 350.8L833.3 343.0L837.1 324.2L839.0 313.2L842.8 287.8L846.6 257.8L850.4 222.9L831.2 394.0L829.4 399.5L827.5 400.8L823.8 404.0L814.6 414.0L812.7 415.5L810.9 416.5L809.0 416.9L803.5 417.2L735.4 417.2L720.7 417.5L671.0 417.8L590.0 418.6L573.4 418.4L525.5 416.8L512.6 416.8L503.4 417.1L496.1 417.6L470.3 420.1L462.9 421.0L455.6 422.1L448.2 423.5L439.0 425.6L429.8 428.0L405.8 434.8L394.7 437.4L385.5 439.3L376.3 441.0L368.9 441.9L359.7 442.6L350.5 442.7L341.3 442.1L330.3 440.7L322.9 439.2L315.6 437.1L308.2 434.3L302.7 431.9L295.4 428.1L284.3 421.8L280.7 419.8L277.0 418.3L273.3 417.1L256.8 416.4L247.5 416.3L186.8 416.2L186.9 403.6"/>
<path class="cv" d="M186.9 403.7L243.9 403.5L264.2 403.2L275.2 402.8L284.4 402.0L301.0 399.8L328.6 396.6L345.2 394.1L356.3 391.9L367.3 389.2L376.6 386.4L383.9 383.4L389.5 380.4L393.2 378.0L395.0 376.4L396.9 374.5L402.4 367.8L404.3 366.0L406.1 364.6L408.0 363.7L409.8 363.1L413.5 362.7L417.2 362.7L424.5 363.3L428.2 363.1L430.0 362.8L433.7 361.7L441.1 358.1L444.8 357.0L448.5 356.6L452.2 356.7L457.7 357.8L463.2 359.8L466.9 361.6L470.5 363.8L472.4 365.1L474.2 366.8L483.4 377.2L487.0 380.7L490.7 383.7L494.4 385.8L499.9 388.1L505.4 389.5L510.9 390.2L520.1 390.5L549.6 390.7L645.3 390.0L768.7 389.8L770.5 389.7L774.2 388.3L788.9 387.7L800.0 387.0L814.7 385.6L816.6 385.1L818.4 384.1L820.3 382.4L822.1 379.9L824.0 376.7L825.8 372.5L827.7 367.5L829.5 361.4L831.4 354.4L833.3 346.4L837.1 327.1L839.0 315.8L842.8 289.7L846.6 258.8L850.4 222.9L831.3 388.3L829.4 399.1L827.5 400.3L823.8 403.4L816.4 411.0L814.6 412.5L812.7 413.6L810.9 414.2L809.1 414.4L805.4 414.6L729.9 414.6L717.0 414.8L588.1 415.7L571.6 415.5L527.4 414.3L516.3 414.3L507.1 414.5L497.9 415.2L472.1 417.5L459.2 419.0L451.9 420.3L442.7 422.2L435.3 424.0L411.3 430.4L392.9 434.1L383.7 435.6L376.3 436.4L367.1 437.0L357.9 437.1L348.7 436.7L339.5 435.7L332.2 434.5L324.8 432.7L319.3 431.0L311.9 428.4L304.6 425.2L289.9 418.0L286.2 416.7L282.5 415.7L273.3 415.5L256.8 414.7L247.6 414.4L186.8 414.3L186.9 403.7"/>
<path class="cv" d="M186.9 403.8L245.8 403.6L266.0 403.3L277.1 402.9L284.4 402.3L302.8 400.0L328.6 397.3L343.4 395.3L356.3 393.0L367.3 390.5L376.5 387.8L383.9 385.0L389.5 382.2L393.1 379.9L395.0 378.3L396.8 376.4L402.4 370.2L404.2 368.7L406.1 367.7L407.9 367.2L411.6 367.0L415.3 367.4L422.7 368.6L426.3 368.7L428.2 368.5L431.9 367.4L435.6 365.7L439.2 364.3L441.1 363.9L444.8 363.5L448.5 363.5L452.1 364.1L457.6 365.6L461.3 367.1L466.8 370.1L468.7 371.4L470.5 373.1L479.7 382.6L483.3 385.7L487.0 388.1L490.7 389.8L496.2 391.5L499.9 392.2L505.4 392.8L514.6 393.0L544.1 393.2L639.8 392.6L766.8 392.4L768.7 392.3L772.3 391.2L787.1 390.8L798.1 390.3L812.9 389.2L814.7 389.0L816.5 388.6L818.4 387.5L820.2 385.8L822.1 383.4L823.9 380.1L825.8 375.9L827.7 370.7L829.5 364.6L831.4 357.4L833.3 349.2L837.1 329.5L839.0 318.0L842.8 291.3L846.6 259.6L850.4 222.9L829.4 398.8L827.5 399.9L823.8 402.8L816.4 409.8L814.6 411.1L812.8 411.8L809.1 412.3L805.4 412.4L726.2 412.4L586.3 413.3L569.7 413.2L529.2 412.3L518.2 412.2L510.8 412.4L503.5 412.8L474.0 415.3L461.1 416.8L453.7 417.9L446.4 419.4L439.0 421.1L418.7 426.2L402.1 429.3L391.1 431.0L383.7 431.8L374.5 432.3L365.3 432.4L356.1 432.0L346.9 431.1L339.5 430.0L332.2 428.5L324.8 426.4L317.5 423.9L299.1 416.4L295.4 415.3L291.7 414.4L275.2 414.2L256.8 413.1L247.6 412.9L186.8 412.8L186.9 403.8"/>
<path class="cv" d="M186.8 403.8L243.9 403.7L266.0 403.4L277.1 403.1L286.3 402.4L302.8 400.4L328.6 397.9L339.7 396.6L352.6 394.6L363.6 392.4L374.7 389.6L382.1 387.2L387.6 384.7L391.3 382.7L393.1 381.5L395.0 379.9L400.5 373.9L402.4 372.4L404.2 371.4L406.1 370.9L409.8 371.0L420.8 373.5L424.5 373.7L428.2 373.2L435.5 370.4L437.4 369.9L441.1 369.5L444.7 369.5L448.4 370.0L453.9 371.4L457.6 372.8L461.3 374.6L463.1 375.6L465.0 377.0L474.1 385.7L477.8 388.6L481.5 390.7L485.1 392.3L490.7 393.8L494.3 394.5L499.9 395.0L509.1 395.2L538.5 395.3L636.1 394.8L766.8 394.7L768.7 393.9L770.5 393.6L785.2 393.4L798.1 392.9L814.7 391.9L816.5 391.5L818.4 390.5L820.2 388.8L822.1 386.3L823.9 382.9L825.8 378.7L827.7 373.5L829.5 367.2L831.4 360.0L833.3 351.6L837.0 331.6L838.9 319.8L842.7 292.6L846.6 260.4L850.4 222.9L829.4 395.3L827.5 399.6L823.8 402.3L818.3 407.3L816.4 408.7L814.6 409.7L812.8 410.3L810.9 410.5L805.4 410.6L720.7 410.6L584.5 411.3L567.9 411.2L529.2 410.5L512.7 410.7L505.3 411.1L488.7 412.7L474.0 413.8L464.8 414.7L457.4 415.8L450.1 417.1L424.3 423.0L409.5 425.6L398.5 427.1L391.1 427.9L383.7 428.3L374.5 428.4L365.3 428.1L356.1 427.4L348.8 426.5L341.4 425.2L334.0 423.5L326.7 421.4L308.3 414.9L304.6 414.0L300.9 413.4L275.2 413.1L256.8 411.8L247.6 411.5L186.8 411.4L186.8 403.8"/>
<path class="cv" d="M186.8 403.9L245.8 403.7L267.9 403.5L278.9 403.1L286.3 402.6L304.7 400.7L328.6 398.6L343.4 396.9L354.4 395.3L365.5 393.2L374.7 391.0L382.1 388.7L387.6 386.4L391.3 384.6L393.1 383.4L395.0 381.8L398.7 378.0L400.5 376.4L402.4 375.3L404.2 374.8L406.1 374.8L409.7 375.5L418.9 378.4L422.6 378.8L426.3 378.3L431.8 376.4L433.7 376.0L437.4 375.5L442.9 375.7L448.4 376.7L453.9 378.5L457.6 380.0L459.4 381.0L461.3 382.4L466.8 387.2L470.4 390.2L474.1 392.5L475.9 393.4L479.6 394.8L483.3 395.8L488.8 396.6L494.3 397.0L533.0 397.3L632.4 396.9L766.8 396.8L768.6 396.0L783.4 395.8L798.1 395.4L814.7 394.6L816.5 394.2L818.4 393.2L820.2 391.5L822.1 389.0L823.9 385.6L825.8 381.3L827.6 376.1L829.5 369.7L831.4 362.4L833.3 353.9L837.0 333.5L838.9 321.5L842.7 293.8L846.6 261.0L850.4 222.9L829.4 391.2L827.5 399.2L823.8 401.9L818.3 406.4L816.5 407.6L814.6 408.4L810.9 408.9L805.4 409.0L713.4 409.0L580.8 409.5L529.3 408.9L514.5 409.1L507.2 409.6L490.6 411.2L472.2 412.6L463.0 413.6L450.1 415.8L427.9 420.6L411.4 422.9L398.5 424.1L383.7 424.5L376.4 424.3L367.2 423.8L359.8 423.1L352.5 422.1L346.9 421.0L339.6 419.3L321.2 414.0L317.5 413.1L313.8 412.5L277.0 412.2L269.7 411.7L256.8 410.6L247.6 410.2L186.8 410.0L186.8 403.9"/>
<path class="cv" d="M186.8 403.9L245.8 403.8L278.9 403.3L288.1 402.7L304.7 401.1L332.3 398.8L343.4 397.6L354.4 396.1L363.6 394.6L372.8 392.7L380.2 390.7L385.7 388.7L391.3 386.1L393.1 384.8L398.7 379.8L400.5 378.7L402.4 378.2L404.2 378.3L406.0 378.7L415.2 382.2L418.9 383.1L420.7 383.2L422.6 383.1L424.4 382.7L430.0 381.1L433.6 380.7L439.2 380.8L444.7 381.7L448.4 382.6L453.9 384.7L457.6 387.0L464.9 392.6L468.6 394.7L470.4 395.5L474.1 396.8L477.8 397.6L481.4 398.2L487.0 398.6L525.6 398.9L628.7 398.6L766.8 398.5L768.6 397.9L798.1 397.4L814.7 396.8L816.5 396.4L818.4 395.5L820.2 393.8L822.1 391.2L823.9 387.8L825.8 383.5L827.6 378.2L829.5 371.8L831.4 364.3L833.3 355.7L837.0 335.1L838.9 322.9L842.7 294.9L846.6 261.6L850.4 222.9L829.4 387.8L827.5 399.0L823.8 401.4L818.3 405.7L816.5 406.6L814.6 407.2L810.9 407.6L805.4 407.7L709.7 407.7L579.0 408.1L531.1 407.7L516.4 407.8L509.0 408.3L492.4 410.1L474.0 411.3L464.8 412.2L451.9 414.1L431.6 418.0L416.9 419.8L402.2 421.0L387.4 421.3L370.9 420.7L363.5 420.1L356.2 419.2L345.1 417.3L326.7 412.9L319.4 411.7L278.9 411.4L271.5 411.0L254.9 409.4L245.7 409.0L186.8 408.9L186.8 403.9"/>
<path class="cv" d="M186.8 404.0L245.8 403.9L278.9 403.4L288.1 402.9L341.5 398.5L352.6 397.1L363.6 395.5L372.8 393.7L380.2 391.8L385.7 389.9L389.4 388.3L391.3 387.3L396.8 382.7L398.7 381.6L400.5 381.3L402.3 381.4L404.2 381.9L413.4 386.0L417.1 386.9L418.9 387.0L420.7 386.9L426.3 385.5L431.8 385.0L437.3 385.3L442.8 386.2L446.5 387.2L450.2 388.5L452.0 389.5L459.4 394.5L463.0 396.4L464.9 397.2L468.5 398.3L472.2 399.1L475.9 399.6L481.4 399.9L520.1 400.1L766.8 399.9L768.6 399.4L799.9 399.0L814.7 398.6L816.5 398.2L818.3 397.2L820.2 395.5L822.0 393.0L823.9 389.6L825.8 385.2L827.6 379.8L829.5 373.4L831.4 365.8L833.3 357.2L837.0 336.3L838.9 324.0L842.7 295.7L846.6 262.0L850.4 222.9L829.4 385.1L827.5 398.7L823.8 401.1L820.2 403.8L818.3 405.0L816.5 405.9L814.6 406.4L812.8 406.6L807.3 406.7L579.0 407.0L531.1 406.8L518.2 406.9L509.0 407.5L492.4 409.4L472.2 410.6L463.0 411.4L451.9 412.8L431.6 416.1L420.6 417.2L404.0 418.4L387.5 418.7L370.9 418.2L363.5 417.8L356.2 417.0L345.1 415.5L326.7 412.0L319.4 411.1L278.9 410.8L271.5 410.3L254.9 408.5L245.7 408.1L186.8 408.0L186.8 404.0"/>
<path class="cv" d="M186.8 404.0L245.8 403.9L278.9 403.5L289.9 403.0L339.7 399.3L350.7 398.2L361.8 396.7L371.0 395.2L378.4 393.5L383.9 391.9L389.4 389.7L391.3 388.6L395.0 385.7L396.8 384.7L398.7 384.5L400.5 384.8L402.3 385.4L407.8 388.2L411.5 389.8L415.2 390.7L417.0 390.7L418.9 390.5L424.4 389.4L428.1 389.2L433.6 389.5L437.3 390.0L441.0 390.7L444.6 391.6L446.5 392.3L453.8 396.5L459.3 398.9L463.0 399.9L466.7 400.5L474.1 401.1L512.7 401.3L766.8 401.1L768.6 400.7L803.6 400.4L814.6 400.2L816.5 399.8L818.3 398.9L820.2 397.2L822.0 394.6L823.9 391.2L825.8 386.8L827.6 381.3L829.5 374.9L831.4 367.3L833.2 358.5L837.0 337.4L838.9 325.0L842.7 296.4L846.6 262.4L850.4 222.9L827.5 397.0L825.7 399.6L820.2 403.3L818.3 404.4L816.5 405.2L812.8 405.8L807.3 405.9L520.1 406.1L510.9 406.6L492.4 408.8L470.3 410.0L459.3 410.8L428.0 414.7L405.9 416.0L389.3 416.3L372.7 416.0L358.0 415.2L345.1 413.9L326.7 411.2L319.4 410.5L289.9 410.4L278.9 410.2L271.5 409.7L254.9 407.7L245.7 407.3L186.8 407.1L186.8 404.0"/>
<path class="cv" d="M186.8 404.1L245.8 404.0L278.9 403.6L289.9 403.2L337.8 400.0L348.9 399.1L359.9 397.8L369.1 396.4L376.5 395.0L382.0 393.6L387.6 391.7L389.4 390.8L393.1 388.2L395.0 387.4L396.8 387.2L398.6 387.7L400.5 388.5L407.8 392.3L411.5 393.5L413.3 393.7L415.2 393.7L420.7 392.8L424.4 392.6L428.1 392.7L433.6 393.2L440.9 394.6L442.8 395.2L450.1 398.8L455.7 400.6L461.2 401.5L468.5 402.0L507.2 402.2L766.8 402.0L768.6 401.8L812.8 401.4L814.6 401.3L816.5 401.0L818.3 400.1L820.2 398.4L822.0 395.8L823.9 392.4L825.7 387.9L827.6 382.5L829.5 375.9L831.4 368.3L833.2 359.5L837.0 338.3L838.9 325.8L842.7 296.9L846.6 262.7L850.4 222.9L827.6 394.9L825.7 399.3L820.2 403.0L818.3 404.0L816.5 404.7L812.8 405.2L807.3 405.4L521.9 405.5L510.9 406.1L498.0 408.0L492.4 408.5L459.3 410.2L428.0 413.2L405.9 414.3L389.3 414.5L372.7 414.3L358.0 413.6L345.1 412.6L326.7 410.7L319.4 410.1L288.1 410.0L277.0 409.7L269.7 409.1L256.8 407.3L249.4 406.7L234.7 406.5L186.8 406.4L186.8 404.1"/>
<path class="cv" d="M186.8 404.1L245.8 404.0L278.9 403.7L289.9 403.3L337.8 400.5L358.1 398.6L367.3 397.4L374.7 396.1L380.2 394.8L385.7 393.1L387.6 392.3L391.3 390.0L393.1 389.5L394.9 389.7L396.8 390.4L404.1 394.3L407.8 395.6L409.6 396.0L411.5 396.0L417.0 395.4L422.5 395.2L429.9 395.7L437.3 396.9L444.6 399.8L450.1 401.4L455.6 402.2L463.0 402.7L501.7 402.8L766.8 402.7L768.6 402.5L814.6 402.2L816.5 401.9L818.3 400.9L820.2 399.2L822.0 396.7L823.9 393.2L825.7 388.7L827.6 383.3L829.5 376.7L831.4 369.0L833.2 360.2L837.0 338.9L838.9 326.3L842.7 297.3L846.6 262.9L850.4 222.9L827.6 393.3L825.7 399.2L820.2 402.7L818.3 403.7L816.5 404.3L812.8 404.9L807.3 405.0L523.7 405.1L512.7 405.7L496.1 408.0L488.8 408.6L459.3 409.8L428.0 412.2L405.9 413.0L389.3 413.2L372.7 413.0L358.0 412.5L345.1 411.8L326.7 410.3L319.4 409.8L289.9 409.8L278.9 409.5L271.5 409.0L256.8 406.8L247.6 406.2L232.9 406.0L186.8 406.0L186.8 404.1"/>
<path class="cv" d="M186.8 404.1L245.8 404.1L278.9 403.8L288.1 403.5L334.1 401.1L354.4 399.5L363.6 398.4L371.0 397.3L376.5 396.3L382.0 394.9L383.9 394.3L387.6 392.3L389.4 391.6L391.3 391.5L393.1 392.1L394.9 392.9L398.6 395.0L402.3 396.7L406.0 397.7L409.6 397.8L413.3 397.3L417.0 397.2L420.7 397.2L426.2 397.6L433.6 398.7L440.9 401.1L444.6 402.0L450.1 402.7L457.5 403.1L766.8 403.1L768.6 403.0L814.6 402.8L816.5 402.5L818.3 401.5L820.2 399.8L822.0 397.3L823.9 393.8L825.7 389.3L827.6 383.8L829.5 377.3L831.4 369.6L833.2 360.7L837.0 339.3L838.9 326.7L842.7 297.6L846.6 263.1L850.4 222.9L827.6 392.0L825.7 399.1L820.2 402.5L818.3 403.5L816.5 404.1L812.8 404.7L807.3 404.8L523.7 404.9L512.7 405.5L496.1 407.9L488.8 408.6L457.5 409.6L428.0 411.4L405.9 412.0L389.3 412.2L372.8 412.0L358.0 411.7L319.4 409.7L291.8 409.6L280.7 409.4L271.5 408.7L258.6 406.7L251.3 406.0L236.5 405.6L186.8 405.6L186.8 404.1"/>
<path class="cv" d="M186.8 404.2L245.8 404.1L277.1 403.9L286.3 403.6L332.3 401.5L352.6 400.0L361.8 399.1L369.1 398.1L374.7 397.1L380.2 395.8L382.0 395.2L385.7 393.5L387.6 393.2L389.4 393.5L391.2 394.3L398.6 398.0L402.3 399.1L405.9 399.3L411.5 398.8L415.2 398.8L422.5 399.1L428.0 399.7L437.2 402.1L440.9 402.7L446.4 403.3L452.0 403.5L766.8 403.5L814.6 403.2L816.5 402.9L818.3 402.0L820.2 400.3L822.0 397.7L823.9 394.2L825.7 389.8L827.6 384.3L829.5 377.7L831.4 370.0L833.2 361.1L837.0 339.6L838.9 327.0L842.7 297.8L846.6 263.2L850.4 222.9L827.6 391.1L825.7 399.0L820.2 402.4L818.3 403.3L816.5 404.0L812.8 404.5L807.3 404.6L525.6 404.7L518.2 405.0L512.7 405.4L496.1 407.9L486.9 408.6L457.5 409.4L428.0 410.9L405.9 411.3L389.3 411.4L358.0 411.0L319.4 409.5L291.8 409.5L280.7 409.3L271.5 408.6L256.8 406.2L249.4 405.6L234.7 405.3L186.8 405.3L186.8 404.2"/>
<path class="cv" d="M167.3 1430.0L180.5 1398.0L187.8 1381.2L193.6 1368.3L199.4 1356.1L205.2 1344.6L209.6 1336.8L214.0 1329.8L215.4 1327.9L216.9 1326.3L229.8 1326.1L237.1 1325.4L239.9 1324.9L242.8 1324.0L245.7 1322.7L247.2 1321.8L248.6 1320.7L251.5 1318.1L263.1 1304.9L281.9 1286.1L287.7 1279.8L292.1 1274.7L300.8 1263.7L308.0 1253.3L337.1 1207.3L345.8 1192.5L354.6 1177.1L389.5 1112.9L393.8 1105.5L399.6 1096.4L405.5 1088.5L408.4 1085.1L412.7 1080.9L415.6 1078.6L419.9 1075.8L424.3 1073.7L427.2 1072.7L430.0 1072.1L432.9 1072.0L435.8 1072.4L440.1 1073.8L444.4 1076.0L447.3 1077.9L450.2 1080.3L453.1 1083.0L455.9 1086.1L458.8 1089.7L464.5 1098.0L470.2 1107.5L478.8 1122.5L491.7 1146.2L495.9 1153.1L501.7 1160.9L504.5 1164.4L507.4 1167.5L510.3 1170.0L513.1 1172.0L516.0 1173.5L518.9 1174.6L521.8 1175.3L524.7 1175.4L527.5 1174.8L530.4 1173.7L534.8 1171.4L539.1 1168.4L542.0 1166.0L544.9 1163.2L553.6 1152.8L558.0 1148.2L559.4 1146.9L562.3 1144.9L565.2 1143.5L568.1 1142.5L571.0 1141.9L575.3 1142.0L579.6 1142.9L591.1 1146.2L596.9 1147.3L607.0 1148.7L615.6 1149.7L622.8 1150.2L628.6 1150.3L632.9 1150.1L635.8 1149.7L643.0 1148.1L648.8 1146.3L654.6 1144.2L658.9 1142.4L661.8 1140.9L667.6 1137.2L673.4 1132.7L679.1 1127.4L683.5 1122.7L689.3 1115.0L702.4 1095.1L712.5 1080.8L722.7 1067.5L732.8 1055.4L735.7 1052.4L738.6 1049.8L743.0 1047.0L745.9 1045.7L747.3 1045.4L748.7 1045.3L750.2 1045.5L751.6 1046.1L753.1 1047.0L754.5 1048.3L755.9 1050.0L757.4 1052.1L758.8 1054.7L760.2 1057.7L761.6 1061.5L763.1 1066.0L764.5 1071.4L767.3 1085.1L774.3 1128.2L777.1 1144.2L779.9 1158.8L784.1 1178.6L788.4 1196.4L791.2 1206.5L794.0 1215.0L795.5 1218.4L798.3 1224.2L799.7 1226.5L802.6 1230.1L804.0 1231.5L806.9 1233.6L809.8 1235.1L812.7 1236.2L817.0 1237.2L819.9 1237.4L822.7 1237.4L825.6 1237.0L832.8 1235.3L838.6 1233.2L845.8 1229.4L850.2 1227.5L854.5 1226.2L860.3 1225.3L860.3 1226.4L857.4 1227.3L854.5 1228.6L831.4 1240.3L812.6 1249.3L801.0 1254.5L790.9 1258.8L756.3 1272.5L741.8 1278.6L728.8 1284.8L695.6 1302.0L684.0 1307.2L671.0 1312.2L668.1 1313.9L666.7 1315.1L663.8 1318.1L662.3 1320.1L659.4 1324.8L656.5 1330.6L652.1 1340.7L637.5 1377.3L630.2 1394.2L625.9 1403.7L621.5 1412.6L617.1 1420.6L614.2 1425.3L611.3 1429.6L608.4 1433.3L596.8 1446.7L592.5 1452.3L588.1 1458.8L575.0 1480.7L569.2 1489.6L560.5 1501.7L541.6 1526.1L538.7 1529.5L535.9 1532.6L531.5 1536.4L528.6 1538.4L525.7 1540.1L522.8 1541.5L519.9 1542.6L517.1 1543.3L514.2 1543.7L509.9 1543.3L505.5 1542.2L496.9 1538.9L491.1 1537.0L483.9 1535.3L479.6 1534.6L475.3 1534.6L472.4 1535.1L469.5 1535.9L460.9 1539.1L458.0 1539.8L455.1 1539.9L453.6 1539.7L450.8 1538.8L449.3 1538.1L447.9 1537.2L445.0 1534.9L440.7 1530.3L433.6 1520.6L420.7 1501.3L415.0 1493.3L410.7 1487.9L406.4 1482.8L402.1 1478.3L397.8 1474.2L393.5 1470.6L389.1 1467.6L386.3 1465.9L382.0 1463.8L377.6 1462.4L373.3 1461.4L369.0 1460.8L363.2 1460.7L357.5 1461.1L351.7 1461.9L345.9 1463.3L338.7 1465.6L332.9 1467.9L327.1 1470.7L319.9 1474.7L312.7 1479.1L306.9 1483.0L301.1 1487.3L295.3 1492.2L291.0 1496.4L288.1 1499.5L283.7 1504.9L272.1 1521.1L267.8 1526.8L262.0 1533.1L254.7 1539.5L248.9 1543.8L244.6 1546.6L240.3 1548.9L235.9 1550.8L230.2 1552.8L225.8 1553.8L222.9 1554.0L221.5 1553.9L218.6 1553.2L215.7 1551.7L212.9 1549.2L210.0 1545.9L207.1 1542.0L202.9 1535.2L200.0 1530.0L197.1 1524.2L194.3 1517.7L190.0 1506.6L185.8 1493.8L181.5 1479.2L174.4 1451.7L171.6 1441.5L168.8 1433.2L167.3 1430.0"/>
<path class="cv" d="M167.5 1404.3L180.6 1380.2L187.8 1367.6L193.6 1357.9L199.5 1348.7L205.3 1340.1L209.6 1334.2L214.0 1329.0L215.4 1327.5L216.9 1326.3L229.8 1326.1L237.1 1325.3L239.9 1324.7L242.8 1323.7L245.7 1322.3L247.2 1321.4L250.1 1319.1L253.0 1316.4L264.6 1303.6L281.9 1286.1L287.7 1279.8L293.5 1273.0L302.2 1261.7L311.0 1248.9L337.1 1207.7L369.1 1154.5L393.8 1117.1L396.7 1113.1L399.6 1109.7L403.9 1105.7L408.3 1102.9L411.2 1101.7L414.0 1100.9L416.9 1100.6L419.8 1100.8L421.2 1101.1L424.1 1102.3L427.0 1104.0L429.9 1106.1L434.2 1109.9L437.0 1112.8L442.8 1119.7L448.5 1127.9L455.7 1139.5L475.7 1173.6L480.0 1180.1L484.2 1185.7L488.6 1190.6L491.4 1193.3L494.3 1195.6L497.2 1197.5L500.0 1198.9L502.9 1199.9L505.8 1200.4L508.7 1200.4L511.6 1200.0L514.5 1199.0L517.3 1197.7L521.7 1195.1L524.6 1193.0L527.5 1190.5L530.4 1187.8L539.1 1178.7L543.4 1174.9L547.7 1172.2L550.6 1170.9L553.5 1170.1L557.8 1169.6L562.2 1169.7L578.0 1172.3L592.4 1173.5L605.4 1174.1L615.5 1173.9L619.8 1173.5L624.1 1172.8L632.8 1170.8L642.9 1167.5L647.2 1165.8L651.6 1163.7L657.4 1160.3L664.6 1155.2L670.4 1150.3L674.7 1145.9L680.5 1139.1L695.0 1120.1L706.6 1105.7L718.2 1092.1L722.6 1087.3L726.9 1082.8L729.8 1080.2L732.7 1077.9L737.1 1075.4L740.0 1074.4L741.4 1074.2L742.8 1074.2L744.3 1074.5L745.7 1075.1L747.2 1076.0L748.6 1077.2L750.0 1078.8L751.5 1080.9L752.9 1083.5L754.3 1086.6L757.1 1094.9L758.6 1100.1L761.4 1112.5L771.2 1162.1L774.0 1174.8L778.3 1192.0L782.5 1206.9L785.4 1215.2L788.2 1222.0L789.7 1224.9L792.5 1229.5L793.9 1231.4L796.8 1234.4L798.2 1235.6L801.1 1237.4L804.0 1238.7L806.9 1239.6L809.8 1240.2L812.6 1240.5L815.5 1240.6L819.8 1240.3L827.1 1239.0L834.3 1236.7L847.3 1231.5L851.6 1230.2L857.4 1229.2L860.3 1229.0L860.2 1235.1L857.3 1235.8L854.5 1236.9L824.1 1250.7L799.6 1261.1L785.1 1266.6L754.8 1277.5L740.3 1283.1L727.3 1288.9L695.6 1303.9L684.0 1308.7L672.5 1312.8L669.6 1314.1L666.7 1316.0L663.8 1318.7L660.9 1322.4L659.4 1324.6L656.5 1330.0L653.6 1336.4L650.7 1343.3L636.1 1379.7L628.8 1396.4L624.4 1405.8L620.0 1414.4L615.7 1422.1L612.8 1426.7L607.0 1434.5L596.8 1446.1L592.5 1451.7L588.1 1457.9L577.9 1474.0L573.6 1480.5L569.2 1486.3L563.4 1493.0L559.1 1497.4L553.3 1502.8L547.5 1507.7L541.7 1512.3L537.4 1515.2L533.0 1517.7L530.2 1518.9L525.8 1520.3L522.9 1520.9L520.1 1521.2L514.3 1520.9L510.0 1521.1L507.1 1521.0L502.8 1519.9L492.7 1515.8L488.4 1514.2L484.1 1513.0L479.7 1512.4L476.9 1512.4L474.0 1512.7L471.1 1513.4L463.9 1515.6L459.5 1516.3L456.7 1516.1L455.2 1515.9L452.3 1514.9L450.9 1514.2L448.0 1512.3L445.1 1509.9L442.3 1507.0L436.5 1500.4L422.2 1481.8L416.5 1474.9L407.9 1465.7L403.6 1461.7L399.3 1458.1L395.0 1455.0L390.7 1452.3L387.8 1450.7L383.5 1448.9L379.2 1447.5L374.8 1446.6L370.5 1446.1L364.7 1446.0L359.0 1446.3L353.2 1447.0L347.4 1448.3L341.7 1450.0L335.9 1452.1L330.1 1454.6L322.9 1458.2L317.1 1461.5L311.3 1465.0L305.5 1469.0L299.7 1473.5L295.4 1477.4L292.5 1480.3L288.1 1485.3L276.5 1500.3L272.2 1505.4L266.4 1511.2L259.2 1516.9L254.8 1519.9L250.5 1522.4L246.1 1524.6L241.8 1526.3L237.5 1527.6L233.2 1528.6L228.8 1528.8L226.0 1528.2L223.1 1527.0L220.2 1525.1L217.3 1522.5L213.0 1517.6L208.7 1511.6L205.9 1507.1L201.6 1499.5L198.7 1493.7L193.0 1480.4L188.8 1468.9L183.1 1451.2L173.2 1417.2L170.3 1409.3L168.9 1406.4L167.5 1404.3"/>
<path class="cv" d="M167.6 1381.8L180.6 1364.7L193.7 1348.8L203.8 1337.6L208.2 1333.3L212.5 1329.4L215.4 1327.2L216.9 1326.3L229.8 1326.1L237.1 1325.4L239.9 1324.8L242.8 1323.9L247.2 1321.7L250.1 1319.5L253.0 1316.8L266.0 1302.6L283.4 1285.1L289.2 1278.7L295.0 1271.8L300.8 1264.3L306.6 1256.2L335.6 1211.7L357.4 1177.7L364.7 1167.0L372.0 1157.2L376.3 1151.8L380.7 1146.9L387.9 1139.2L392.2 1135.1L396.6 1131.6L399.5 1129.8L403.8 1127.8L406.7 1127.0L409.6 1126.6L411.0 1126.6L412.5 1126.9L415.3 1128.1L418.2 1130.1L422.5 1133.7L426.8 1138.0L429.7 1141.1L435.4 1148.1L441.2 1156.1L462.6 1189.0L468.3 1197.5L474.1 1204.9L479.8 1211.1L482.7 1213.7L485.5 1216.0L488.4 1217.8L491.3 1219.3L494.2 1220.4L497.0 1221.2L499.9 1221.5L502.8 1221.4L505.7 1220.9L508.6 1219.9L511.5 1218.6L515.8 1216.2L518.7 1214.2L521.6 1211.9L531.7 1202.3L536.1 1198.7L540.4 1195.9L543.3 1194.6L546.2 1193.6L550.5 1192.8L554.8 1192.7L570.7 1194.2L580.8 1194.6L598.1 1194.8L605.3 1194.6L611.1 1194.2L619.7 1192.9L629.8 1190.4L639.9 1187.1L647.1 1184.0L652.9 1180.8L660.2 1176.0L666.0 1171.4L670.3 1167.4L676.1 1161.1L690.6 1143.8L705.1 1127.2L716.7 1114.4L723.9 1107.3L728.3 1103.8L732.6 1101.1L735.5 1100.1L736.9 1099.8L739.8 1100.0L741.3 1100.4L742.7 1101.2L744.1 1102.2L745.6 1103.7L747.0 1105.6L748.4 1108.1L749.9 1111.1L751.3 1114.9L752.7 1119.3L755.5 1130.2L765.4 1175.1L769.6 1192.1L772.5 1202.3L776.7 1215.6L779.6 1222.9L782.4 1228.7L783.9 1231.1L786.7 1235.0L788.2 1236.5L791.0 1239.0L793.9 1240.7L796.8 1242.0L799.7 1242.9L802.5 1243.5L805.4 1243.8L809.7 1244.0L812.6 1243.8L816.9 1243.3L824.2 1241.8L829.9 1240.1L841.5 1235.9L847.3 1234.2L853.0 1233.1L860.2 1232.4L860.2 1243.0L857.3 1243.7L854.4 1244.7L824.1 1257.3L799.5 1266.7L785.1 1271.7L753.3 1282.1L738.9 1287.3L727.3 1291.9L702.8 1302.5L692.7 1306.7L682.6 1310.5L671.0 1314.2L668.1 1315.5L665.2 1317.4L662.3 1320.1L659.4 1323.7L658.0 1326.0L655.1 1331.4L650.7 1341.4L636.1 1377.8L627.3 1397.9L623.0 1407.1L618.6 1415.7L614.2 1423.2L611.3 1427.6L605.5 1435.2L596.8 1444.9L592.5 1450.2L588.1 1456.1L576.5 1472.6L573.6 1476.2L569.3 1481.0L564.9 1485.2L560.6 1489.0L549.0 1498.6L543.2 1503.1L540.3 1505.1L537.4 1506.8L534.5 1508.1L531.6 1509.0L528.8 1509.3L527.3 1509.3L524.4 1508.9L521.6 1508.1L517.2 1505.9L502.9 1497.2L498.6 1494.7L492.8 1492.1L487.1 1490.4L482.7 1489.8L478.4 1489.8L474.1 1490.6L465.4 1492.8L461.1 1493.2L458.2 1492.9L456.8 1492.6L452.5 1491.0L448.1 1488.2L443.8 1484.5L438.1 1478.7L423.8 1462.7L418.0 1456.8L409.4 1448.9L402.2 1443.2L397.9 1440.4L393.6 1437.8L389.3 1435.7L386.4 1434.6L382.1 1433.2L377.8 1432.3L373.5 1431.7L369.1 1431.4L363.4 1431.5L357.6 1432.0L351.8 1432.9L346.1 1434.3L340.3 1436.0L334.5 1438.1L328.7 1440.7L321.5 1444.3L315.7 1447.5L309.9 1451.1L304.2 1455.1L299.8 1458.6L296.9 1461.3L292.6 1465.9L281.0 1479.7L276.6 1484.3L270.8 1489.4L265.0 1493.6L259.3 1497.2L254.9 1499.4L250.6 1501.1L246.3 1502.5L241.9 1503.6L237.6 1504.2L234.7 1504.1L231.8 1503.5L229.0 1502.3L224.7 1499.5L221.8 1497.0L217.5 1492.4L213.2 1487.0L208.9 1480.9L204.6 1473.9L201.7 1468.7L196.0 1456.8L191.8 1446.7L186.1 1431.4L176.1 1401.1L173.3 1393.0L170.4 1386.2L169.0 1383.6L167.6 1381.8"/>
<path class="cv" d="M167.7 1363.6L180.7 1352.1L193.7 1341.4L205.3 1332.9L209.6 1330.1L214.0 1327.6L216.9 1326.3L232.7 1326.0L237.1 1325.6L241.4 1324.8L244.3 1323.8L247.2 1322.5L250.1 1320.6L252.9 1318.1L255.8 1315.2L267.4 1302.4L280.5 1289.4L286.3 1283.4L292.1 1276.9L297.9 1269.9L303.7 1262.4L308.0 1256.4L326.9 1228.6L347.2 1199.8L355.9 1188.1L364.6 1177.6L369.0 1173.0L373.3 1168.8L377.7 1165.0L382.0 1161.8L386.4 1159.1L390.7 1156.8L395.0 1155.0L397.9 1154.3L400.8 1154.1L402.2 1154.2L403.7 1154.7L406.6 1156.2L409.4 1158.4L412.3 1161.0L419.5 1168.1L425.2 1174.4L430.9 1181.2L448.1 1203.7L459.6 1218.3L465.3 1224.8L471.1 1230.3L475.4 1233.8L478.2 1235.8L481.1 1237.6L484.0 1239.0L486.9 1240.1L491.2 1241.1L494.1 1241.5L496.9 1241.5L499.8 1241.1L504.2 1239.9L507.0 1238.7L511.4 1236.4L517.2 1232.5L527.3 1223.9L531.6 1220.7L536.0 1218.3L538.9 1217.0L541.8 1216.2L544.6 1215.6L549.0 1215.2L553.3 1215.2L566.3 1215.8L579.2 1215.8L595.1 1215.4L606.6 1214.5L615.3 1213.0L625.4 1210.5L635.5 1207.3L642.7 1204.2L648.5 1201.1L654.3 1197.5L660.1 1193.3L664.4 1189.6L670.2 1183.9L684.7 1168.1L705.0 1146.8L712.2 1139.4L718.0 1134.0L722.4 1130.7L726.7 1128.1L729.6 1127.0L731.0 1126.8L733.9 1126.7L735.4 1127.0L736.8 1127.6L738.2 1128.5L739.7 1129.7L741.1 1131.4L742.5 1133.6L744.0 1136.5L745.4 1139.9L746.8 1144.0L749.6 1153.9L756.7 1181.7L759.5 1192.1L763.8 1206.3L766.6 1214.9L769.5 1222.5L772.3 1228.9L775.2 1234.0L776.6 1236.2L779.5 1239.6L780.9 1241.0L783.8 1243.2L786.7 1244.8L789.5 1245.9L792.4 1246.7L796.7 1247.5L799.6 1247.8L804.0 1247.9L811.2 1247.2L819.8 1245.5L825.6 1244.0L838.6 1239.8L844.4 1238.3L851.6 1237.1L860.2 1236.4L860.2 1251.7L857.3 1252.3L852.9 1253.7L824.1 1264.4L799.5 1272.8L785.1 1277.3L753.3 1286.5L738.9 1291.1L727.3 1295.3L701.3 1305.3L691.2 1309.0L682.5 1311.9L669.6 1315.6L666.7 1316.9L663.8 1318.6L660.9 1321.1L658.0 1324.6L656.5 1326.8L653.6 1332.3L649.2 1342.4L634.6 1378.8L627.4 1395.6L623.0 1404.9L618.6 1413.6L614.2 1421.4L609.9 1428.0L607.0 1431.8L604.1 1435.2L592.5 1447.3L579.4 1462.0L573.7 1467.7L556.3 1482.9L550.5 1487.7L547.6 1489.7L544.7 1491.3L541.8 1492.6L538.9 1493.2L536.0 1493.3L534.6 1493.0L531.7 1492.1L528.9 1490.6L524.5 1487.5L514.5 1478.8L508.8 1474.4L503.0 1471.1L500.1 1469.7L495.8 1468.2L491.5 1467.2L488.6 1466.7L482.8 1466.5L478.5 1467.0L467.0 1469.4L462.6 1469.6L458.3 1468.9L454.0 1467.3L449.7 1464.8L445.4 1461.6L439.7 1456.6L426.7 1444.5L421.0 1439.4L412.4 1432.6L405.2 1427.7L400.9 1425.1L396.6 1422.9L389.4 1419.8L385.1 1418.5L380.7 1417.6L376.4 1416.9L372.1 1416.6L366.3 1416.6L360.6 1416.9L356.2 1417.4L350.5 1418.4L344.7 1419.8L338.9 1421.6L333.1 1423.8L327.4 1426.2L320.1 1429.7L314.4 1432.9L308.6 1436.5L304.2 1439.7L301.3 1442.1L297.0 1446.2L286.8 1457.1L282.5 1461.4L276.7 1466.1L269.5 1470.8L265.1 1473.1L260.8 1475.0L256.5 1476.6L250.7 1478.1L246.4 1478.8L243.5 1479.0L239.2 1478.5L236.3 1477.7L233.4 1476.3L229.1 1473.5L224.8 1469.9L220.5 1465.6L216.2 1460.8L211.9 1455.3L207.6 1449.1L204.7 1444.6L201.9 1439.6L197.6 1431.6L191.9 1419.5L186.2 1405.8L177.7 1383.3L173.4 1372.9L170.5 1367.2L169.1 1365.1L167.7 1363.6"/>
<path class="cv" d="M167.7 1350.9L180.7 1343.3L193.8 1336.3L203.9 1331.4L212.5 1327.7L216.9 1326.4L232.7 1326.1L237.1 1325.8L241.4 1325.2L244.3 1324.6L247.2 1323.6L250.0 1322.1L252.9 1320.1L257.3 1316.0L270.3 1301.8L286.3 1286.0L296.4 1274.8L302.2 1267.9L308.0 1260.5L325.4 1236.6L337.0 1221.5L347.2 1209.1L355.9 1199.4L360.2 1195.1L364.6 1191.2L368.9 1187.8L371.8 1185.7L376.2 1183.1L380.5 1181.1L384.8 1179.5L387.7 1178.8L390.6 1178.5L392.0 1178.6L394.9 1179.5L396.3 1180.3L399.2 1182.3L405.0 1187.1L413.6 1195.1L420.7 1202.3L440.8 1224.2L453.7 1237.6L459.5 1243.0L465.2 1247.6L469.5 1250.6L472.4 1252.3L476.7 1254.4L479.6 1255.5L482.5 1256.4L486.8 1257.3L491.1 1257.7L494.0 1257.6L496.9 1257.1L499.8 1256.4L502.6 1255.4L507.0 1253.5L512.8 1250.1L522.9 1242.5L527.2 1239.6L531.6 1237.2L534.5 1236.0L537.3 1235.1L541.7 1234.3L546.0 1233.9L561.8 1233.9L576.3 1233.5L592.1 1232.8L602.2 1231.8L610.9 1230.4L622.4 1227.6L631.1 1224.9L638.3 1222.0L644.1 1219.1L649.9 1215.8L655.7 1211.9L660.0 1208.4L665.8 1203.1L704.9 1164.9L709.2 1160.9L713.6 1157.3L717.9 1154.2L722.3 1152.0L725.2 1151.1L726.6 1150.8L729.5 1150.8L730.9 1151.1L732.4 1151.7L733.8 1152.6L735.2 1153.9L736.7 1155.7L738.1 1158.1L739.5 1161.0L740.9 1164.5L743.8 1172.9L749.5 1191.8L753.7 1205.1L758.0 1217.1L760.8 1224.3L765.1 1233.5L768.0 1238.3L770.8 1242.1L772.3 1243.6L775.1 1246.0L779.4 1248.5L782.3 1249.7L785.2 1250.5L788.1 1251.0L792.4 1251.6L799.6 1251.6L806.8 1250.9L815.5 1249.2L822.7 1247.4L834.2 1244.0L841.5 1242.3L850.1 1241.1L860.2 1240.4L860.1 1259.8L857.2 1260.3L852.9 1261.5L824.0 1271.0L799.5 1278.5L785.0 1282.5L751.8 1291.1L736.0 1295.6L725.9 1298.9L691.2 1310.6L681.1 1313.6L668.1 1316.9L663.8 1318.8L660.9 1320.8L658.0 1323.5L656.5 1325.3L655.1 1327.5L652.2 1333.0L647.8 1343.2L633.2 1379.6L625.9 1396.3L621.5 1405.5L617.2 1414.0L612.8 1421.3L609.9 1425.5L605.6 1430.6L601.2 1434.7L586.7 1446.0L579.5 1451.9L559.2 1470.0L556.3 1472.1L553.4 1473.9L550.6 1475.2L547.7 1475.8L544.8 1475.9L543.3 1475.7L540.5 1474.7L537.6 1473.1L533.3 1469.8L521.8 1459.0L517.5 1455.3L513.2 1452.4L510.3 1450.7L507.4 1449.4L503.1 1447.9L498.8 1446.8L494.5 1446.0L490.2 1445.6L485.8 1445.6L482.9 1445.8L471.4 1447.9L467.1 1448.3L464.2 1448.3L461.3 1447.9L457.0 1446.7L452.7 1444.7L446.9 1441.2L441.2 1437.1L428.3 1426.9L422.5 1422.7L413.9 1417.0L406.7 1412.8L398.1 1408.7L390.9 1406.1L383.7 1404.4L379.4 1403.7L375.0 1403.3L369.3 1403.2L363.5 1403.4L357.7 1403.9L353.4 1404.6L347.6 1405.7L343.3 1406.8L337.5 1408.6L331.8 1410.7L324.5 1413.7L318.8 1416.5L313.0 1419.6L308.6 1422.4L305.8 1424.5L301.4 1428.1L291.3 1437.8L286.9 1441.6L281.1 1445.8L273.9 1449.8L269.6 1451.8L265.2 1453.4L260.9 1454.7L255.1 1455.9L250.8 1456.4L247.9 1456.3L245.1 1455.9L242.2 1455.2L237.9 1453.4L233.5 1450.8L229.2 1447.7L224.9 1444.0L220.6 1440.0L216.3 1435.4L212.0 1430.3L207.7 1424.6L200.6 1413.6L193.4 1400.9L187.7 1389.3L177.7 1367.1L173.5 1358.6L170.6 1353.9L169.2 1352.1L167.7 1350.9"/>
<path class="cv" d="M167.8 1341.2L180.8 1336.7L193.8 1332.4L203.9 1329.4L212.5 1327.2L216.9 1326.4L234.2 1326.2L242.8 1325.6L245.7 1325.1L248.6 1324.4L251.5 1323.3L254.4 1321.7L257.3 1319.5L260.2 1316.8L273.2 1302.7L289.1 1287.2L297.8 1278.2L309.4 1265.0L323.9 1247.1L331.2 1238.5L339.9 1228.9L347.1 1221.7L351.5 1217.7L355.8 1214.1L360.2 1211.0L363.0 1209.1L367.4 1206.7L371.7 1204.8L376.0 1203.5L378.9 1202.9L381.8 1202.8L384.7 1203.5L387.6 1204.9L391.9 1207.9L401.9 1215.7L410.5 1222.9L433.5 1243.2L443.6 1251.7L452.2 1258.5L457.9 1262.4L462.2 1265.0L466.5 1267.1L470.9 1269.0L475.2 1270.4L479.5 1271.4L483.8 1272.1L488.1 1272.3L491.0 1272.1L496.8 1271.0L499.7 1270.1L504.0 1268.4L509.8 1265.5L519.9 1258.9L524.3 1256.3L528.6 1254.3L534.4 1252.5L538.7 1251.7L543.0 1251.3L558.9 1250.9L574.7 1250.1L589.2 1249.2L597.8 1248.4L607.9 1246.7L618.0 1244.4L626.7 1241.9L633.9 1239.2L639.7 1236.6L645.5 1233.5L651.2 1229.9L655.6 1226.7L662.8 1220.6L700.5 1187.4L704.8 1183.8L709.1 1180.6L713.5 1177.9L717.8 1176.0L722.2 1174.9L725.0 1174.9L726.5 1175.2L727.9 1175.9L729.3 1176.9L730.8 1178.3L732.2 1180.3L733.6 1182.8L736.5 1189.0L743.6 1207.9L747.9 1218.6L752.2 1228.4L755.0 1234.2L757.9 1239.4L760.7 1243.7L763.6 1247.0L765.0 1248.4L767.9 1250.6L770.8 1252.3L773.7 1253.5L776.5 1254.4L779.4 1255.1L786.6 1255.9L793.8 1255.9L801.0 1255.2L811.1 1253.4L818.3 1251.7L831.3 1248.3L838.6 1246.8L848.7 1245.5L860.2 1244.9L860.1 1268.2L854.3 1269.3L824.0 1278.0L798.0 1284.8L783.6 1288.3L751.8 1295.4L737.4 1298.9L725.8 1302.1L689.7 1312.7L681.1 1314.9L666.7 1318.2L663.8 1319.2L660.9 1320.7L658.0 1322.7L656.5 1324.1L655.1 1325.8L653.6 1327.9L652.2 1330.4L647.8 1340.0L634.7 1372.9L627.4 1390.1L623.0 1399.5L620.1 1405.3L617.2 1410.4L614.3 1414.8L611.4 1418.3L609.9 1419.7L607.0 1422.1L602.7 1424.8L591.1 1430.6L585.4 1434.4L579.6 1439.2L569.4 1448.5L565.1 1451.9L560.7 1454.5L557.9 1455.5L556.4 1455.7L553.5 1455.7L552.1 1455.5L549.2 1454.5L546.3 1452.9L542.0 1449.6L530.6 1438.8L524.8 1434.0L521.9 1432.0L519.1 1430.3L513.3 1427.8L509.0 1426.6L504.7 1425.7L500.4 1425.0L494.6 1424.6L490.3 1424.5L485.9 1424.7L474.4 1426.4L470.1 1426.8L467.2 1426.8L464.3 1426.6L460.0 1425.7L455.7 1424.2L449.9 1421.5L442.7 1417.4L424.0 1405.7L415.4 1401.1L408.2 1397.7L399.6 1394.3L392.4 1392.1L385.2 1390.7L378.0 1389.9L372.2 1389.6L366.5 1389.7L360.7 1390.1L356.4 1390.6L346.3 1392.4L336.2 1395.3L328.9 1397.8L323.2 1400.1L317.4 1402.8L313.1 1405.1L308.7 1407.8L305.8 1410.0L295.7 1418.4L291.4 1421.6L285.6 1425.1L278.3 1428.5L274.0 1430.1L269.7 1431.4L263.9 1432.6L259.6 1433.3L256.7 1433.4L253.8 1433.4L250.9 1433.0L246.6 1432.0L242.3 1430.3L238.0 1428.1L233.7 1425.5L229.4 1422.5L223.6 1418.1L219.3 1414.3L215.0 1410.1L210.7 1405.4L206.4 1400.2L202.1 1394.6L195.0 1384.1L189.2 1374.6L179.2 1356.6L175.0 1349.5L172.1 1345.4L170.7 1343.7L169.2 1342.2L167.8 1341.2"/>
<path class="cv" d="M167.8 1334.8L192.3 1330.1L211.1 1327.0L216.9 1326.4L237.1 1326.3L245.7 1325.8L250.0 1325.3L252.9 1324.6L257.2 1322.9L260.1 1321.2L264.5 1317.5L277.5 1303.5L299.3 1282.9L307.9 1274.0L326.8 1254.0L332.6 1248.3L336.9 1244.4L341.3 1240.7L345.6 1237.4L349.9 1234.5L354.3 1232.0L358.6 1229.9L361.5 1228.7L365.8 1227.4L368.7 1226.8L371.6 1226.6L374.5 1227.0L377.4 1228.0L380.2 1229.6L400.4 1242.7L432.0 1264.5L443.5 1271.8L450.6 1275.8L457.8 1279.2L466.5 1282.3L473.7 1284.1L478.0 1284.7L482.3 1285.1L486.6 1285.1L491.0 1284.6L495.3 1283.7L499.6 1282.4L504.0 1280.8L506.8 1279.5L518.4 1273.2L522.7 1271.1L527.1 1269.5L532.8 1268.0L540.1 1267.2L555.9 1266.5L574.7 1265.4L586.2 1264.6L594.9 1263.8L605.0 1262.2L615.1 1260.1L622.3 1258.3L629.5 1256.0L635.3 1253.7L641.0 1251.1L646.8 1248.0L651.2 1245.2L657.0 1241.1L674.3 1227.9L697.5 1209.7L704.7 1204.6L709.0 1202.2L711.9 1200.8L716.3 1199.3L719.1 1198.7L722.0 1198.7L723.5 1199.2L724.9 1200.0L726.3 1201.2L727.8 1202.9L729.2 1205.0L732.1 1210.1L739.2 1224.9L744.9 1235.8L749.2 1243.1L753.5 1249.2L756.4 1252.3L759.2 1254.6L762.1 1256.4L766.4 1258.3L772.2 1259.8L777.9 1260.6L783.7 1260.9L790.9 1260.5L798.1 1259.6L806.8 1258.1L814.0 1256.5L827.0 1253.3L835.6 1251.8L847.2 1250.5L860.2 1250.0L860.0 1276.8L854.3 1277.8L823.9 1285.1L798.0 1290.9L783.5 1293.8L750.4 1300.1L734.5 1303.5L688.3 1314.8L679.6 1316.7L665.2 1319.5L660.9 1320.9L658.0 1322.4L655.1 1324.6L653.6 1326.2L652.2 1328.2L650.7 1330.7L646.4 1340.3L634.7 1369.6L628.9 1383.5L625.9 1389.7L623.0 1395.3L620.1 1399.8L618.7 1401.6L615.8 1404.4L612.9 1406.3L610.0 1407.6L599.9 1411.4L594.1 1414.4L588.3 1418.4L576.7 1428.2L572.4 1431.4L568.1 1433.6L565.2 1434.5L563.7 1434.6L562.3 1434.7L559.4 1434.2L556.5 1433.2L553.7 1431.6L549.3 1428.3L539.3 1419.4L533.6 1414.7L527.8 1411.1L524.9 1409.8L520.6 1408.2L516.3 1407.0L512.0 1406.2L506.2 1405.5L499.0 1405.0L493.2 1404.9L488.9 1405.1L475.9 1406.6L471.6 1406.8L465.8 1406.6L461.5 1405.8L457.2 1404.6L451.5 1402.4L444.3 1399.1L425.6 1390.0L416.9 1386.3L409.7 1383.6L402.5 1381.3L395.3 1379.5L388.1 1378.1L380.9 1377.3L370.9 1377.1L360.8 1377.5L350.7 1378.9L340.6 1381.0L333.3 1383.1L327.6 1384.9L321.8 1387.1L317.5 1389.0L313.1 1391.2L310.2 1393.0L300.1 1400.0L295.8 1402.8L290.0 1405.6L282.8 1408.4L278.4 1409.7L274.1 1410.7L265.5 1412.0L259.7 1412.1L256.8 1411.8L252.5 1411.0L248.2 1409.7L243.8 1408.1L239.5 1406.1L233.8 1403.0L228.0 1399.5L223.7 1396.6L218.0 1392.2L213.7 1388.6L209.4 1384.5L205.1 1380.1L197.9 1372.0L192.2 1364.7L179.3 1346.7L175.0 1341.2L170.7 1336.7L169.3 1335.6L167.8 1334.8"/>
<path class="cv" d="M167.8 1331.0L193.8 1328.3L214.0 1326.6L216.9 1326.4L242.8 1326.3L250.0 1326.0L254.4 1325.5L257.2 1325.0L261.6 1323.6L264.5 1322.1L265.9 1321.2L268.8 1318.9L271.7 1316.1L281.8 1305.1L286.2 1300.8L319.5 1271.0L325.3 1266.0L331.1 1261.4L335.4 1258.2L339.8 1255.4L347.0 1251.5L351.3 1249.7L354.2 1248.6L358.5 1247.5L361.4 1247.0L364.3 1246.8L367.2 1247.1L370.1 1247.9L372.9 1249.2L393.1 1259.8L424.7 1277.0L437.6 1283.4L446.3 1287.3L454.9 1290.4L463.5 1292.8L472.2 1294.3L480.8 1295.0L485.1 1294.9L489.5 1294.4L493.8 1293.6L498.1 1292.5L505.4 1289.9L515.5 1285.3L519.8 1283.5L525.6 1281.7L529.9 1280.7L537.1 1279.9L576.0 1277.7L593.4 1276.2L603.4 1274.8L613.5 1272.9L620.8 1271.3L628.0 1269.3L638.1 1265.6L642.4 1263.6L646.8 1261.4L654.0 1257.1L669.9 1246.8L694.5 1229.8L700.3 1226.2L704.6 1223.8L710.4 1221.2L714.7 1219.6L717.6 1219.1L719.0 1219.1L720.5 1219.4L721.9 1220.1L723.4 1221.2L724.8 1222.6L727.7 1226.3L736.2 1239.8L742.0 1248.1L746.3 1253.7L749.1 1256.7L752.0 1259.1L754.9 1260.9L759.2 1262.9L763.5 1264.1L769.3 1265.1L775.0 1265.5L780.8 1265.5L786.6 1265.1L793.8 1264.2L802.4 1262.7L822.6 1258.3L831.3 1256.8L837.1 1256.1L844.3 1255.5L860.1 1255.0L860.0 1284.6L854.2 1285.4L823.9 1291.5L797.9 1296.4L748.9 1304.4L733.0 1307.2L688.3 1316.4L678.2 1318.3L663.8 1320.6L659.4 1321.9L656.5 1323.2L653.6 1325.1L652.2 1326.6L650.7 1328.6L649.3 1331.2L644.9 1340.9L631.8 1373.3L628.9 1379.5L627.4 1382.2L624.5 1386.3L623.1 1387.8L621.6 1388.9L618.7 1390.4L607.2 1394.0L601.4 1396.5L598.5 1398.1L594.2 1400.9L584.0 1408.6L579.7 1411.6L575.4 1413.7L572.5 1414.6L571.0 1414.8L569.6 1414.9L566.7 1414.6L563.8 1413.8L561.0 1412.5L556.6 1409.7L545.2 1400.6L539.4 1396.6L533.7 1393.6L530.8 1392.4L526.5 1391.1L522.1 1390.1L516.4 1389.3L503.4 1388.4L491.9 1388.4L477.5 1389.6L473.1 1389.8L467.4 1389.6L463.1 1389.0L457.3 1387.6L451.5 1385.8L427.1 1376.7L412.7 1372.1L404.0 1369.8L396.8 1368.3L391.1 1367.4L383.9 1366.7L373.8 1366.3L363.7 1366.6L353.6 1367.6L343.5 1369.3L336.3 1370.9L330.5 1372.4L320.4 1375.8L314.6 1378.4L303.1 1384.9L298.7 1387.1L293.0 1389.3L287.2 1391.1L278.5 1392.9L269.9 1393.9L267.0 1394.0L262.7 1393.8L255.5 1392.7L251.1 1391.6L246.8 1390.3L241.1 1388.1L235.3 1385.6L229.6 1382.8L225.2 1380.5L219.5 1377.0L215.2 1374.0L206.6 1367.4L198.0 1359.8L190.8 1352.5L179.3 1340.1L175.0 1335.9L170.7 1332.5L167.8 1331.0"/>
<path class="cv" d="M167.8 1328.6L195.2 1327.2L215.4 1326.4L254.3 1326.1L261.6 1325.5L264.4 1325.0L267.3 1324.2L271.7 1322.2L276.0 1319.0L278.9 1316.2L287.6 1306.9L290.5 1304.2L294.8 1300.5L309.3 1289.9L322.3 1281.2L332.4 1275.3L336.8 1273.2L341.1 1271.3L345.4 1269.7L349.8 1268.4L354.1 1267.5L357.0 1267.1L359.9 1267.0L362.8 1267.2L367.1 1268.4L418.9 1289.7L433.3 1295.0L443.3 1298.3L452.0 1300.6L462.0 1302.5L472.1 1303.7L480.8 1303.9L488.0 1303.4L492.3 1302.8L496.6 1301.8L502.4 1300.2L518.3 1294.7L522.6 1293.6L527.0 1292.7L535.6 1291.8L576.0 1289.6L591.8 1288.4L601.9 1287.1L612.0 1285.6L619.3 1284.2L626.5 1282.4L636.6 1279.3L640.9 1277.7L646.7 1275.1L668.4 1263.7L678.5 1258.0L691.5 1250.4L697.3 1247.3L710.3 1241.4L713.2 1240.5L714.6 1240.2L716.1 1240.1L717.5 1240.3L718.9 1240.8L721.8 1242.7L724.7 1245.4L739.0 1260.3L741.9 1262.9L744.8 1265.0L747.6 1266.7L752.0 1268.5L756.3 1269.7L760.6 1270.5L764.9 1271.0L770.7 1271.2L775.0 1271.2L780.8 1270.8L788.0 1269.9L796.6 1268.6L818.3 1264.2L828.4 1262.6L835.6 1261.9L842.8 1261.4L860.1 1261.0L859.9 1292.8L854.2 1293.5L823.9 1298.4L797.9 1302.3L748.9 1308.6L733.0 1310.9L686.8 1318.4L663.8 1321.5L659.4 1322.4L655.1 1323.9L652.2 1325.6L650.8 1327.0L649.3 1328.9L647.9 1331.5L644.9 1337.8L634.7 1362.6L631.8 1368.1L630.4 1370.2L628.9 1371.7L627.5 1372.8L624.6 1374.0L614.5 1376.3L610.1 1377.6L607.3 1378.8L601.5 1381.8L587.0 1390.7L582.7 1392.6L578.3 1393.7L574.0 1393.7L571.1 1393.1L568.3 1392.1L564.0 1389.9L551.0 1381.6L545.3 1378.4L539.5 1376.0L536.6 1375.1L532.3 1374.1L528.0 1373.4L522.2 1372.8L506.4 1372.0L493.4 1372.0L476.1 1373.0L470.3 1372.9L466.0 1372.5L460.3 1371.7L454.5 1370.4L428.6 1363.4L412.7 1359.8L398.3 1357.3L392.6 1356.6L385.4 1356.1L375.3 1355.8L365.2 1356.0L355.1 1356.7L346.4 1357.8L333.5 1360.2L323.4 1362.7L317.6 1364.7L307.5 1369.1L303.1 1370.8L297.4 1372.6L291.6 1374.0L282.9 1375.4L274.3 1376.1L267.1 1375.9L259.9 1375.1L255.5 1374.3L249.8 1373.0L238.3 1369.5L228.2 1365.8L218.1 1361.2L209.5 1356.6L200.9 1351.2L193.7 1346.1L179.3 1335.0L175.0 1332.0L170.7 1329.6L167.8 1328.6"/>
<path class="cv" d="M167.9 1327.3L214.0 1326.4L260.1 1326.2L267.3 1325.8L273.1 1324.9L277.4 1323.5L280.3 1322.0L281.8 1321.1L286.1 1317.4L293.4 1309.9L297.7 1306.1L302.0 1303.1L309.3 1299.2L320.8 1294.0L326.6 1291.7L332.4 1289.8L338.1 1288.2L342.5 1287.2L346.8 1286.5L351.1 1286.1L355.5 1286.2L359.8 1286.9L411.6 1301.2L423.1 1304.1L436.1 1307.0L444.7 1308.7L453.4 1310.0L462.0 1311.0L469.2 1311.5L480.7 1311.6L486.5 1311.3L492.3 1310.6L500.9 1308.9L516.8 1304.8L521.1 1304.0L526.9 1303.2L535.6 1302.6L584.6 1300.2L596.1 1299.2L607.7 1298.0L617.8 1296.5L626.4 1294.9L635.1 1292.8L642.3 1290.6L652.4 1286.8L666.8 1281.0L675.5 1277.2L691.4 1269.9L703.0 1265.1L708.7 1262.5L711.6 1261.4L714.5 1261.1L717.4 1261.5L720.3 1262.7L727.5 1266.7L736.1 1271.9L739.0 1273.4L741.8 1274.6L746.2 1275.9L750.5 1276.8L754.8 1277.4L760.6 1277.8L770.6 1277.8L780.7 1276.8L795.2 1274.7L815.4 1270.9L825.5 1269.5L839.9 1268.5L860.1 1268.1L859.9 1301.3L854.1 1301.8L823.8 1305.4L797.9 1308.3L733.0 1314.7L685.4 1320.5L662.3 1322.8L658.0 1323.5L655.1 1324.1L652.2 1325.2L650.8 1326.0L649.3 1327.4L647.9 1329.3L645.0 1334.8L637.7 1351.5L636.2 1354.0L634.8 1355.9L633.3 1357.2L631.9 1357.9L630.4 1358.4L620.3 1360.0L614.5 1361.4L607.3 1364.2L595.8 1369.6L591.4 1371.3L587.1 1372.5L582.8 1373.0L578.5 1372.7L574.1 1371.7L569.8 1370.0L558.3 1364.5L552.6 1362.0L545.4 1359.8L538.2 1358.4L528.1 1357.5L510.8 1356.9L496.4 1356.8L477.6 1357.5L467.5 1357.2L456.0 1355.8L428.6 1351.0L414.2 1348.8L399.8 1347.1L388.3 1346.3L378.2 1346.0L368.1 1346.1L358.0 1346.5L349.4 1347.2L337.8 1348.7L327.7 1350.3L320.5 1352.0L306.1 1356.3L300.3 1357.4L294.6 1358.3L287.3 1359.1L278.7 1359.6L271.5 1359.4L262.8 1358.8L252.8 1357.3L239.8 1354.7L229.7 1352.2L219.6 1349.2L209.6 1345.6L200.9 1342.0L176.5 1330.1L172.2 1328.4L167.9 1327.3"/>
<path class="cv" d="M167.9 1326.7L263.0 1326.3L271.6 1326.1L277.4 1325.5L280.3 1325.0L283.2 1324.2L287.5 1322.2L291.9 1319.1L297.7 1313.7L300.6 1311.4L303.4 1309.6L307.8 1307.8L317.9 1304.9L328.0 1302.7L336.6 1301.3L345.3 1300.7L349.6 1300.8L353.9 1301.3L410.1 1310.9L426.0 1313.2L438.9 1315.0L451.9 1316.2L464.9 1317.0L476.4 1317.2L486.5 1316.8L496.6 1315.7L515.3 1312.4L524.0 1311.3L532.6 1310.8L575.9 1309.1L590.3 1308.3L609.1 1306.7L617.7 1305.6L624.9 1304.5L632.1 1303.1L637.9 1301.7L659.6 1295.5L695.7 1283.6L705.8 1279.3L708.7 1278.5L710.1 1278.3L714.4 1278.3L721.6 1279.3L725.9 1280.2L734.6 1282.4L741.8 1283.5L751.9 1284.5L762.0 1284.7L770.6 1284.3L780.7 1283.2L793.7 1281.4L813.9 1278.1L824.0 1276.8L839.8 1275.9L860.0 1275.5L859.9 1308.5L797.9 1313.5L733.0 1318.0L683.9 1322.2L660.9 1323.9L655.1 1324.6L650.8 1325.7L649.3 1326.5L647.9 1327.9L646.4 1330.0L645.0 1332.6L640.6 1341.4L639.1 1343.6L637.7 1345.1L636.2 1345.9L634.8 1346.4L624.7 1347.5L618.9 1348.5L611.7 1350.4L597.3 1354.9L593.0 1355.8L590.1 1356.2L585.7 1356.3L580.0 1355.6L574.2 1354.2L562.7 1350.4L557.0 1348.8L549.8 1347.3L542.5 1346.4L531.0 1345.7L513.7 1345.4L497.9 1345.4L479.1 1345.8L469.0 1345.6L456.1 1344.6L430.1 1341.8L415.7 1340.4L401.3 1339.4L389.8 1338.8L369.6 1338.7L352.3 1339.3L339.3 1340.3L329.2 1341.4L323.5 1342.3L309.0 1345.0L297.5 1346.3L290.3 1346.8L281.6 1347.1L274.4 1347.0L265.8 1346.5L255.7 1345.6L242.7 1344.1L231.2 1342.3L221.1 1340.5L211.0 1338.3L202.4 1336.1L176.5 1328.4L172.2 1327.4L167.9 1326.7"/>
<path class="cv" d="M167.9 1326.5L261.6 1326.4L274.5 1326.2L280.3 1325.9L286.1 1325.0L290.4 1323.7L294.7 1321.4L302.0 1316.3L304.9 1314.9L307.7 1314.0L313.5 1312.9L322.2 1311.8L329.4 1311.2L336.6 1310.8L342.4 1310.7L346.7 1311.0L407.2 1317.0L433.1 1319.2L451.9 1320.3L469.2 1320.8L480.7 1320.7L490.8 1320.2L499.4 1319.4L515.3 1317.5L525.4 1316.7L577.3 1315.0L597.5 1314.0L610.5 1313.0L622.0 1311.7L630.7 1310.3L645.1 1307.4L659.5 1304.3L686.9 1297.7L691.3 1296.4L701.4 1292.5L704.3 1291.7L708.6 1291.1L715.8 1290.3L721.6 1290.1L751.8 1291.2L759.0 1291.1L766.3 1290.8L774.9 1290.1L785.0 1288.9L812.4 1285.1L821.1 1284.1L834.0 1283.1L849.9 1282.6L860.0 1282.5L859.8 1314.0L796.4 1317.5L733.0 1320.6L683.9 1323.5L660.9 1324.6L655.1 1325.1L650.8 1325.8L649.3 1326.3L647.9 1327.3L646.4 1328.9L642.1 1335.5L640.6 1337.0L639.2 1337.8L636.3 1338.4L629.1 1338.9L621.9 1339.7L616.1 1340.6L600.2 1343.7L595.9 1344.3L591.6 1344.6L587.2 1344.5L582.9 1344.1L577.2 1343.1L559.9 1339.7L552.7 1338.8L545.5 1338.3L533.9 1337.9L516.6 1337.7L499.3 1337.6L479.2 1337.9L469.1 1337.8L457.5 1337.2L417.2 1334.8L391.3 1333.8L368.2 1333.7L346.6 1334.3L329.3 1335.4L307.6 1337.7L294.6 1338.4L281.7 1338.7L267.3 1338.3L244.2 1336.9L222.6 1334.7L203.9 1332.2L176.5 1327.5L167.9 1326.5"/>
<path class="cv" d="M167.9 1326.5L258.7 1326.4L280.3 1326.1L286.1 1325.6L290.4 1324.8L294.7 1323.4L300.5 1320.8L304.8 1319.6L309.2 1319.1L314.9 1318.7L329.3 1318.1L340.9 1318.2L433.1 1322.6L453.3 1323.2L472.0 1323.4L482.1 1323.3L492.2 1323.0L515.3 1321.4L523.9 1320.9L577.3 1319.7L600.3 1318.8L614.8 1317.8L627.7 1316.4L647.9 1313.7L678.2 1309.1L684.0 1307.9L695.6 1304.3L699.9 1303.1L712.9 1300.4L720.1 1299.3L736.0 1298.1L754.7 1298.0L767.7 1297.4L786.4 1295.7L815.3 1292.3L823.9 1291.4L838.3 1290.6L855.6 1290.1L860.0 1290.1L859.8 1318.7L796.4 1320.9L732.9 1322.8L655.1 1325.6L650.8 1326.0L649.3 1326.3L647.9 1327.0L646.4 1328.2L643.5 1331.5L642.1 1332.8L640.6 1333.5L639.2 1333.9L623.3 1334.8L601.7 1337.5L593.0 1338.1L584.4 1337.7L561.3 1334.8L546.9 1333.9L516.7 1333.5L470.5 1333.6L415.8 1331.6L391.3 1331.1L368.2 1331.0L346.6 1331.4L329.3 1332.1L309.1 1333.5L296.1 1334.0L283.1 1334.1L267.3 1333.9L244.2 1332.9L222.6 1331.6L203.9 1330.0L176.5 1327.1L167.9 1326.5"/>
<path class="cv" d="M167.9 1326.4L257.2 1326.4L278.9 1326.2L287.5 1325.6L297.6 1323.7L301.9 1323.1L322.1 1322.6L336.5 1322.6L434.5 1324.7L474.9 1325.0L493.6 1324.7L522.5 1323.7L577.3 1322.9L603.2 1322.1L616.2 1321.5L633.5 1320.2L673.9 1316.5L681.1 1315.2L714.3 1307.8L722.9 1306.4L733.0 1305.2L740.2 1304.8L759.0 1304.4L770.5 1303.7L792.1 1301.9L819.6 1299.3L829.6 1298.5L844.1 1297.8L859.9 1297.6L859.8 1322.1L653.6 1326.0L649.3 1326.4L647.9 1326.9L646.4 1327.9L643.5 1330.4L642.1 1331.3L640.6 1331.8L624.8 1332.6L603.1 1334.6L593.1 1335.1L583.0 1334.7L559.9 1332.5L546.9 1331.9L515.2 1331.7L470.5 1331.7L417.2 1330.3L392.7 1329.9L355.2 1329.9L332.2 1330.5L312.0 1331.6L300.4 1331.9L284.6 1332.1L268.7 1331.9L244.2 1331.2L222.6 1330.2L203.9 1329.1L176.5 1326.9L167.9 1326.4"/>
<path class="cv" d="M167.9 1326.4L260.1 1326.4L281.7 1326.2L287.5 1325.8L291.8 1325.1L294.7 1324.4L301.9 1322.1L304.8 1321.5L309.2 1321.1L319.2 1320.8L336.5 1321.1L431.7 1323.9L472.0 1324.4L492.2 1324.1L523.9 1322.6L570.1 1321.7L591.7 1321.0L604.7 1320.2L614.8 1319.3L665.2 1313.6L672.5 1312.3L686.9 1308.8L704.2 1305.4L712.9 1304.0L721.5 1303.0L735.9 1301.9L754.7 1301.6L769.1 1301.0L790.7 1299.2L829.7 1295.4L844.1 1294.6L858.5 1294.3L859.9 1294.2L859.8 1320.7L732.9 1323.7L655.1 1325.8L649.3 1326.3L647.9 1326.8L646.4 1327.5L643.5 1329.4L642.1 1330.0L640.7 1330.3L624.8 1330.9L603.2 1332.4L594.5 1332.7L585.9 1332.5L562.8 1330.9L548.4 1330.4L518.1 1330.2L470.6 1330.2L392.7 1328.9L368.2 1328.9L348.0 1329.1L297.6 1330.4L268.7 1330.4L244.2 1329.9L222.6 1329.2L167.9 1326.4"/>
<path class="cv" d="M167.9 1326.4L260.1 1326.4L281.7 1326.2L287.5 1325.9L291.8 1325.3L300.5 1323.3L303.4 1322.8L307.7 1322.5L313.5 1322.4L335.1 1322.6L433.1 1324.6L473.5 1324.9L493.6 1324.6L522.5 1323.5L568.6 1322.8L590.2 1322.2L610.4 1320.9L659.5 1316.3L666.7 1315.1L679.7 1312.5L705.6 1307.8L714.3 1306.5L727.3 1305.1L737.4 1304.4L754.7 1304.2L770.5 1303.5L793.6 1301.7L831.1 1298.2L845.5 1297.5L859.9 1297.2L859.8 1321.9L655.1 1325.9L649.3 1326.3L647.9 1326.7L643.5 1328.7L640.7 1329.2L624.8 1329.7L604.6 1330.7L596.0 1331.0L585.9 1330.8L562.8 1329.6L548.4 1329.3L470.6 1329.1L392.7 1328.2L348.0 1328.3L297.6 1329.3L268.7 1329.3L222.6 1328.4L167.9 1326.4"/>
<path class="cv" d="M167.9 1326.4L280.3 1326.2L288.9 1325.8L301.9 1323.7L309.1 1323.4L335.1 1323.6L433.1 1325.0L474.9 1325.3L492.2 1325.1L521.0 1324.2L567.2 1323.6L588.8 1323.0L607.5 1321.9L655.1 1318.0L660.9 1317.2L704.2 1309.9L715.7 1308.5L728.7 1307.1L737.3 1306.6L756.1 1306.2L770.5 1305.6L795.0 1303.8L832.5 1300.6L845.5 1299.9L859.9 1299.6L859.8 1322.8L656.5 1325.9L649.3 1326.3L647.9 1326.6L643.5 1328.1L640.7 1328.5L626.2 1328.8L596.0 1329.8L587.3 1329.7L564.3 1328.8L548.4 1328.5L470.6 1328.4L392.7 1327.7L348.0 1327.8L297.6 1328.5L268.8 1328.5L222.6 1327.9L167.9 1326.4"/>
<path class="cv" d="M167.9 1326.4L280.3 1326.3L288.9 1325.9L299.0 1324.5L306.3 1324.1L433.1 1325.4L474.9 1325.6L493.6 1325.4L521.0 1324.7L565.7 1324.2L585.9 1323.7L604.7 1322.7L649.4 1319.6L656.6 1318.7L702.7 1311.9L717.2 1310.2L730.1 1308.9L737.3 1308.5L756.1 1308.1L771.9 1307.4L796.5 1305.7L833.9 1302.7L846.9 1302.1L859.9 1301.8L859.8 1323.5L656.5 1326.0L649.3 1326.3L643.5 1327.7L640.7 1328.0L596.0 1328.9L548.4 1328.0L470.6 1327.9L392.7 1327.4L348.0 1327.4L297.6 1328.0L268.8 1328.0L224.1 1327.5L167.9 1326.4"/>
<path class="cv" d="M167.9 1326.4L278.9 1326.3L287.5 1326.0L299.0 1324.8L304.8 1324.6L431.7 1325.6L476.3 1325.7L564.3 1324.6L583.0 1324.2L598.9 1323.4L643.6 1320.7L673.9 1317.0L701.3 1313.3L717.1 1311.6L730.1 1310.4L737.3 1310.0L756.1 1309.6L771.9 1308.9L797.9 1307.3L833.9 1304.5L846.9 1303.9L859.9 1303.6L859.8 1324.0L656.5 1326.1L649.3 1326.3L643.5 1327.4L640.7 1327.6L596.0 1328.4L549.8 1327.6L470.6 1327.6L394.2 1327.2L349.5 1327.2L297.6 1327.6L268.8 1327.6L224.1 1327.2L167.9 1326.4"/>
<path class="cv" d="M167.9 1326.4L276.0 1326.3L286.1 1326.1L296.2 1325.3L303.4 1325.1L433.1 1325.8L482.1 1325.9L580.1 1324.7L630.6 1322.4L639.3 1321.8L668.1 1318.8L701.3 1314.9L730.1 1312.2L737.3 1311.8L757.5 1311.4L773.4 1310.7L799.3 1309.2L835.4 1306.6L848.3 1306.0L859.9 1305.8L859.8 1324.5L656.5 1326.2L649.3 1326.3L643.5 1327.1L640.7 1327.2L597.4 1327.8L549.9 1327.2L470.6 1327.2L394.2 1326.9L268.8 1327.2L167.9 1326.4"/>
</g></svg>
</body></html>
